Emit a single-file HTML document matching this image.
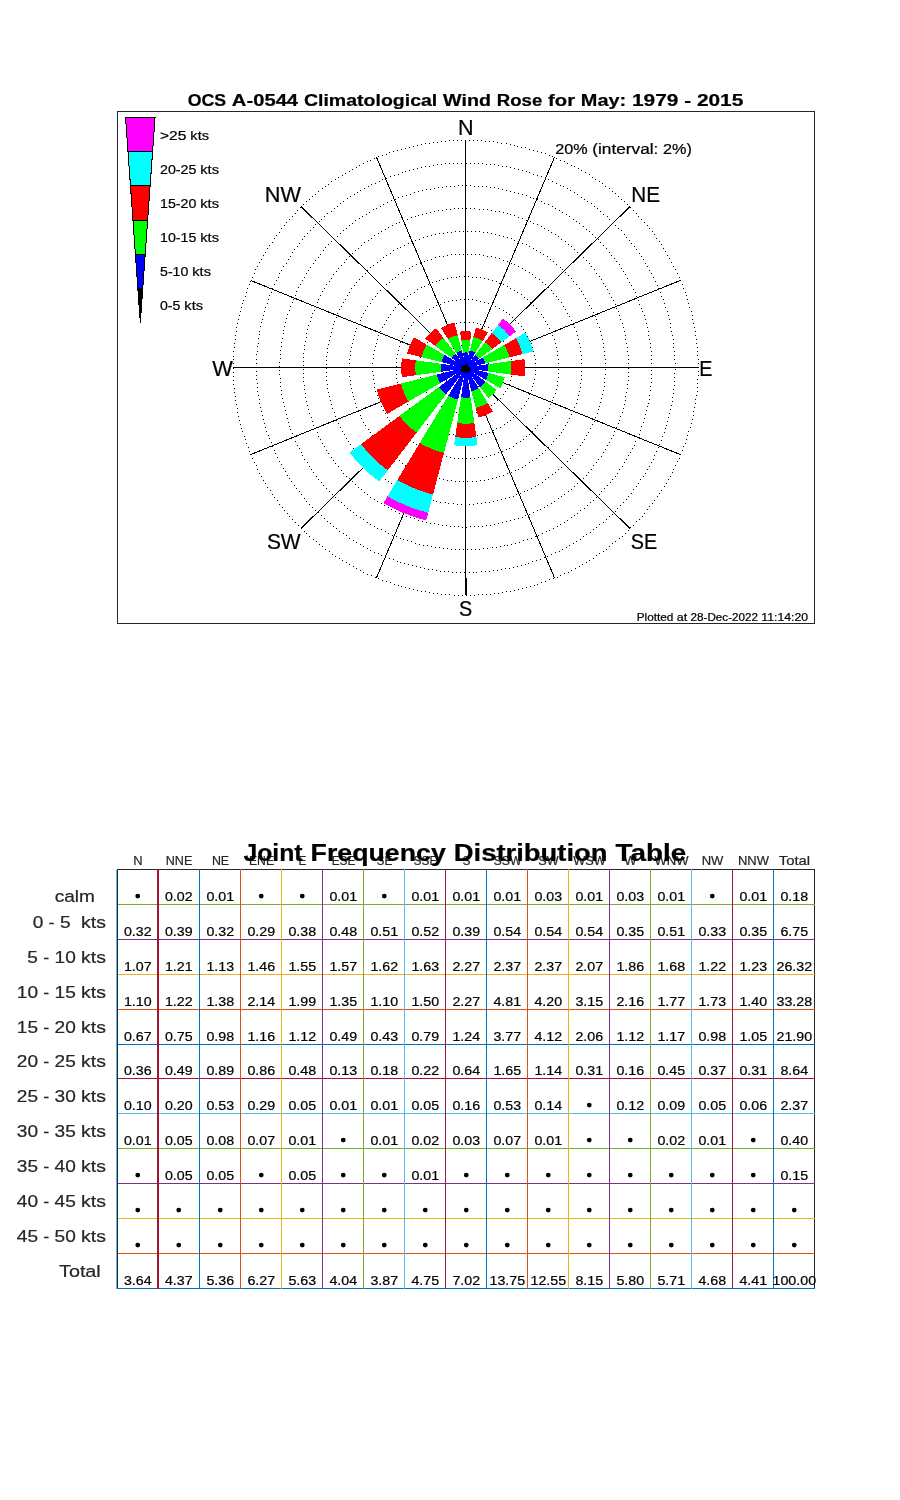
<!DOCTYPE html>
<html><head><meta charset="utf-8"><title>OCS A-0544 Climatological Wind Rose for May</title>
<style>html,body{margin:0;padding:0;background:#fff}body{width:900px;height:1500px;overflow:hidden}svg{display:block;will-change:transform}text{font-family:"Liberation Sans",sans-serif;fill:#000;white-space:pre;stroke:#000;stroke-width:.22px}.g{fill:#262626;stroke:#262626}</style></head><body>
<svg width="900" height="1500" viewBox="0 0 900 1500">
<rect width="900" height="1500" fill="#fff"/>
<g shape-rendering="crispEdges">
<rect x="117.5" y="111.5" width="697" height="512" fill="none" stroke="#262626" stroke-width="1"/>
</g>
<path shape-rendering="crispEdges" transform="translate(0,0.5)" fill="none" stroke="#000" stroke-width="1" d="M489 367h1M488 363h1M487 359h1M485 356h1M483 352h1M480 350h1M477 347h1M473 346h1M469 345h1M465 345h1M461 345h1M457 346h1M453 348h1M450 350h1M447 353h1M445 356h1M443 360h1M442 364h1M442 368h1M443 372h1M444 376h1M446 380h1M448 383h1M451 385h1M455 388h1M459 389h1M462 390h1M467 390h1M471 389h1M474 388h1M478 386h1M481 384h1M484 381h1M486 377h1M488 374h1M488 370h1M512 367h1M512 363h1M511 359h1M510 355h1M509 351h1M507 348h1M505 344h1M503 341h1M501 338h1M498 335h1M495 332h1M491 330h1M488 327h1M484 326h1M480 324h1M477 323h1M473 322h1M469 322h1M464 322h1M460 322h1M456 323h1M452 324h1M449 325h1M445 326h1M441 328h1M438 331h1M435 333h1M432 336h1M429 339h1M427 342h1M424 346h1M423 349h1M421 353h1M420 357h1M419 361h1M419 365h1M419 369h1M419 373h1M420 377h1M421 381h1M422 385h1M424 388h1M426 392h1M429 395h1M431 398h1M434 401h1M437 404h1M441 406h1M444 408h1M448 409h1M452 411h1M456 412h1M460 412h1M464 413h1M468 413h1M472 412h1M476 412h1M480 411h1M484 409h1M487 407h1M491 405h1M494 403h1M497 400h1M500 398h1M503 394h1M505 391h1M507 388h1M509 384h1M510 380h1M511 376h1M512 372h1M512 368h1M535 367h1M535 363h1M535 359h1M534 355h1M533 351h1M532 347h1M531 343h1M529 340h1M527 336h1M525 332h1M523 329h1M521 326h1M518 323h1M515 320h1M512 317h1M509 314h1M506 312h1M503 310h1M499 308h1M495 306h1M492 304h1M488 303h1M484 302h1M480 301h1M476 300h1M472 299h1M468 299h1M464 299h1M460 299h1M456 300h1M452 300h1M448 301h1M444 302h1M440 304h1M436 305h1M433 307h1M429 309h1M426 311h1M422 313h1M419 316h1M416 319h1M413 322h1M411 325h1M408 328h1M406 331h1M404 335h1M402 338h1M400 342h1M399 346h1M398 350h1M397 354h1M396 358h1M396 362h1M396 366h1M396 370h1M396 374h1M396 378h1M397 382h1M398 386h1M399 390h1M401 393h1M403 397h1M404 401h1M407 404h1M409 408h1M411 411h1M414 414h1M417 417h1M420 419h1M423 422h1M427 424h1M430 426h1M434 428h1M437 430h1M441 431h1M445 433h1M449 434h1M453 434h1M457 435h1M461 435h1M465 436h1M469 435h1M473 435h1M477 435h1M481 434h1M485 433h1M489 432h1M493 430h1M496 428h1M500 427h1M504 424h1M507 422h1M510 420h1M513 417h1M516 414h1M519 411h1M521 408h1M524 405h1M526 401h1M528 398h1M529 394h1M531 390h1M532 386h1M533 383h1M534 379h1M535 374h1M535 370h1M558 367h1M558 363h1M558 359h1M557 355h1M557 351h1M556 347h1M555 343h1M554 339h1M552 335h1M551 332h1M549 328h1M547 324h1M545 321h1M543 317h1M541 314h1M538 311h1M536 308h1M533 305h1M530 302h1M527 299h1M524 297h1M521 294h1M517 292h1M514 290h1M510 288h1M507 286h1M503 284h1M499 283h1M496 281h1M492 280h1M488 279h1M484 278h1M480 277h1M476 277h1M472 277h1M468 276h1M464 276h1M459 276h1M456 277h1M451 277h1M447 278h1M443 279h1M439 280h1M436 281h1M432 282h1M428 284h1M424 286h1M421 287h1M417 289h1M414 292h1M410 294h1M407 296h1M404 299h1M401 302h1M398 304h1M395 307h1M393 310h1M390 314h1M388 317h1M386 320h1M384 324h1M382 327h1M380 331h1M378 335h1M377 339h1M376 343h1M375 346h1M374 350h1M373 354h1M373 358h1M372 363h1M372 367h1M372 371h1M373 375h1M373 379h1M374 383h1M374 387h1M375 391h1M377 395h1M378 398h1M379 402h1M381 406h1M383 410h1M385 413h1M387 417h1M389 420h1M392 423h1M394 426h1M397 429h1M400 432h1M403 435h1M406 437h1M409 440h1M413 442h1M416 444h1M419 446h1M423 448h1M427 450h1M431 452h1M434 453h1M438 454h1M442 455h1M446 456h1M450 457h1M454 458h1M458 458h1M462 458h1M466 458h1M470 458h1M474 458h1M478 457h1M482 457h1M486 456h1M490 455h1M494 454h1M498 452h1M502 451h1M506 449h1M509 448h1M513 446h1M516 443h1M520 441h1M523 439h1M526 436h1M529 434h1M532 431h1M535 428h1M537 425h1M540 422h1M542 418h1M545 415h1M547 411h1M549 408h1M550 404h1M552 400h1M553 397h1M555 393h1M556 389h1M557 385h1M557 381h1M558 377h1M558 373h1M558 369h1M582 367h1M581 363h1M581 359h1M581 355h1M580 351h1M580 347h1M579 343h1M578 339h1M577 335h1M576 331h1M574 327h1M573 324h1M571 320h1M569 316h1M567 313h1M565 309h1M563 306h1M561 302h1M558 299h1M556 296h1M553 293h1M551 290h1M548 287h1M545 284h1M542 282h1M539 279h1M535 277h1M532 274h1M529 272h1M525 270h1M522 268h1M518 266h1M514 264h1M511 263h1M507 261h1M503 260h1M499 258h1M495 257h1M491 256h1M487 256h1M483 255h1M479 254h1M475 254h1M471 254h1M467 254h1M463 254h1M459 254h1M455 254h1M451 254h1M447 255h1M443 256h1M439 256h1M435 257h1M431 259h1M427 260h1M424 261h1M420 263h1M416 264h1M412 266h1M409 268h1M405 270h1M402 272h1M398 274h1M395 277h1M392 279h1M389 282h1M386 284h1M383 287h1M380 290h1M377 293h1M375 296h1M372 299h1M370 303h1M367 306h1M365 310h1M363 313h1M361 317h1M360 320h1M358 324h1M356 328h1M355 331h1M354 335h1M353 339h1M352 343h1M351 347h1M350 351h1M350 355h1M349 359h1M349 363h1M349 367h1M349 371h1M349 376h1M350 380h1M350 384h1M351 388h1M352 392h1M353 396h1M354 399h1M355 403h1M356 407h1M358 411h1M360 415h1M361 418h1M363 422h1M365 425h1M368 429h1M370 432h1M372 435h1M375 439h1M377 442h1M380 445h1M383 448h1M386 450h1M389 453h1M392 456h1M395 458h1M399 460h1M402 463h1M405 465h1M409 467h1M413 469h1M416 470h1M420 472h1M424 474h1M427 475h1M431 476h1M435 477h1M439 478h1M443 479h1M447 480h1M451 480h1M455 481h1M459 481h1M463 481h1M467 481h1M472 481h1M476 481h1M480 480h1M484 480h1M488 479h1M492 478h1M496 477h1M499 476h1M503 475h1M507 473h1M511 472h1M515 470h1M518 469h1M522 467h1M525 465h1M529 462h1M532 460h1M536 458h1M539 455h1M542 453h1M545 450h1M548 447h1M551 444h1M553 441h1M556 438h1M559 435h1M561 432h1M563 429h1M565 425h1M567 422h1M569 418h1M571 414h1M573 411h1M574 407h1M576 403h1M577 399h1M578 395h1M579 391h1M580 387h1M580 383h1M581 379h1M581 375h1M581 371h1M605 367h1M605 363h1M605 359h1M604 355h1M604 351h1M603 347h1M603 343h1M602 339h1M601 335h1M600 331h1M599 327h1M597 323h1M596 319h1M595 316h1M593 312h1M591 308h1M589 305h1M587 301h1M585 298h1M583 294h1M581 291h1M579 288h1M576 284h1M573 281h1M571 278h1M568 275h1M565 272h1M562 269h1M560 267h1M556 264h1M553 261h1M550 259h1M547 256h1M543 254h1M540 252h1M536 250h1M533 248h1M529 246h1M526 244h1M522 243h1M518 241h1M514 240h1M511 238h1M507 237h1M503 236h1M499 235h1M495 234h1M491 233h1M487 232h1M483 232h1M479 231h1M475 231h1M471 231h1M467 231h1M463 231h1M459 231h1M455 231h1M451 232h1M447 232h1M443 233h1M439 233h1M435 234h1M431 235h1M427 236h1M423 237h1M419 239h1M415 240h1M411 241h1M408 243h1M404 245h1M400 247h1M397 248h1M393 250h1M390 253h1M386 255h1M383 257h1M380 260h1M377 262h1M373 265h1M370 267h1M367 270h1M365 273h1M362 276h1M359 279h1M356 282h1M354 285h1M351 288h1M349 292h1M347 295h1M345 299h1M343 302h1M341 306h1M339 309h1M337 313h1M336 317h1M334 321h1M333 324h1M332 328h1M331 332h1M330 336h1M329 340h1M328 344h1M327 348h1M327 352h1M326 356h1M326 360h1M326 364h1M326 368h1M326 372h1M326 376h1M326 380h1M327 384h1M327 388h1M328 392h1M329 396h1M330 400h1M331 404h1M332 408h1M334 412h1M335 416h1M336 420h1M338 423h1M340 427h1M342 431h1M344 434h1M346 438h1M348 441h1M350 444h1M353 448h1M355 451h1M358 454h1M360 457h1M363 460h1M366 463h1M369 466h1M372 469h1M375 471h1M378 474h1M381 476h1M385 479h1M388 481h1M391 483h1M395 485h1M398 487h1M402 489h1M406 491h1M409 492h1M413 494h1M417 495h1M421 497h1M425 498h1M428 499h1M433 500h1M436 501h1M440 502h1M445 502h1M448 503h1M453 503h1M457 504h1M461 504h1M465 504h1M469 504h1M473 504h1M477 503h1M481 503h1M485 502h1M489 502h1M493 501h1M497 500h1M501 499h1M505 498h1M509 497h1M513 496h1M516 494h1M520 493h1M524 491h1M527 490h1M531 488h1M535 486h1M538 484h1M542 482h1M545 479h1M548 477h1M552 474h1M555 472h1M558 469h1M561 467h1M564 464h1M567 461h1M570 458h1M572 455h1M575 452h1M577 449h1M580 445h1M582 442h1M584 439h1M586 435h1M588 432h1M590 428h1M592 424h1M594 421h1M595 417h1M597 413h1M598 409h1M599 406h1M600 402h1M601 398h1M602 394h1M603 390h1M604 386h1M604 382h1M604 378h1M605 374h1M605 369h1M628 367h1M628 363h1M628 359h1M628 355h1M627 351h1M627 347h1M626 343h1M625 339h1M625 335h1M624 331h1M623 327h1M622 323h1M620 319h1M619 315h1M618 311h1M616 308h1M615 304h1M613 300h1M611 297h1M609 293h1M607 289h1M605 286h1M603 283h1M601 279h1M599 276h1M596 273h1M594 269h1M591 266h1M589 263h1M586 260h1M583 257h1M580 254h1M577 252h1M574 249h1M571 246h1M568 244h1M565 241h1M561 239h1M558 236h1M555 234h1M551 232h1M548 230h1M544 228h1M541 226h1M537 224h1M533 223h1M530 221h1M526 220h1M522 218h1M518 217h1M514 215h1M510 214h1M507 213h1M503 212h1M499 211h1M495 211h1M491 210h1M487 209h1M483 209h1M479 209h1M474 208h1M470 208h1M466 208h1M462 208h1M458 208h1M454 208h1M450 209h1M446 209h1M442 210h1M438 210h1M434 211h1M430 212h1M426 213h1M422 214h1M418 215h1M415 216h1M411 217h1M407 219h1M403 220h1M399 222h1M396 223h1M392 225h1M388 227h1M385 229h1M381 231h1M378 233h1M374 235h1M371 238h1M368 240h1M364 242h1M361 245h1M358 248h1M355 250h1M352 253h1M349 256h1M346 259h1M344 262h1M341 265h1M338 268h1M336 271h1M333 274h1M331 278h1M329 281h1M326 284h1M324 288h1M322 291h1M320 295h1M318 299h1M317 302h1M315 306h1M314 310h1M312 313h1M311 317h1M310 321h1M308 325h1M307 329h1M306 333h1M306 337h1M305 341h1M304 345h1M304 349h1M303 353h1M303 357h1M303 361h1M303 365h1M303 369h1M303 373h1M303 377h1M303 381h1M304 385h1M304 389h1M305 393h1M305 397h1M306 401h1M307 405h1M308 409h1M309 413h1M311 417h1M312 421h1M313 425h1M315 428h1M317 432h1M318 436h1M320 439h1M322 443h1M324 446h1M326 450h1M328 453h1M331 457h1M333 460h1M335 463h1M338 466h1M341 470h1M343 473h1M346 476h1M349 478h1M352 481h1M355 484h1M358 487h1M361 489h1M364 492h1M367 494h1M370 497h1M374 499h1M377 501h1M381 503h1M384 505h1M388 507h1M391 509h1M395 511h1M399 513h1M403 514h1M406 516h1M410 517h1M414 518h1M418 520h1M422 521h1M426 522h1M430 523h1M434 523h1M438 524h1M442 525h1M446 525h1M450 526h1M454 526h1M458 526h1M462 527h1M466 527h1M470 526h1M474 526h1M478 526h1M482 526h1M486 525h1M490 525h1M494 524h1M498 523h1M502 522h1M506 521h1M510 520h1M514 519h1M518 518h1M522 517h1M525 515h1M529 514h1M533 512h1M537 510h1M540 509h1M544 507h1M547 505h1M551 503h1M554 501h1M558 498h1M561 496h1M564 494h1M568 491h1M571 489h1M574 486h1M577 483h1M580 480h1M583 478h1M586 475h1M588 472h1M591 469h1M593 465h1M596 462h1M598 459h1M601 456h1M603 452h1M605 449h1M607 445h1M609 442h1M611 438h1M613 435h1M614 431h1M616 427h1M618 423h1M619 420h1M620 416h1M622 412h1M623 408h1M624 404h1M625 400h1M625 396h1M626 392h1M627 388h1M627 384h1M628 380h1M628 376h1M628 372h1M628 368h1M651 367h1M651 363h1M651 359h1M651 355h1M651 351h1M650 347h1M650 343h1M649 339h1M648 335h1M648 331h1M647 327h1M646 323h1M645 319h1M644 315h1M642 311h1M641 308h1M639 304h1M638 300h1M636 296h1M635 292h1M633 289h1M631 285h1M629 282h1M627 278h1M625 274h1M623 271h1M621 268h1M619 264h1M616 261h1M614 258h1M611 255h1M609 252h1M606 248h1M603 245h1M600 242h1M598 239h1M595 237h1M592 234h1M589 231h1M586 229h1M583 226h1M579 223h1M576 221h1M573 219h1M569 216h1M566 214h1M562 212h1M559 210h1M555 208h1M552 206h1M548 204h1M544 203h1M541 201h1M537 199h1M533 198h1M530 197h1M526 195h1M522 194h1M518 193h1M514 192h1M510 191h1M506 190h1M502 189h1M498 188h1M494 187h1M490 187h1M486 186h1M482 186h1M478 186h1M474 186h1M470 185h1M466 185h1M462 185h1M458 185h1M454 186h1M450 186h1M446 186h1M442 187h1M438 187h1M434 188h1M430 189h1M426 189h1M422 190h1M418 191h1M414 192h1M410 194h1M406 195h1M402 196h1M398 197h1M395 199h1M391 200h1M387 202h1M383 204h1M380 206h1M376 208h1M373 209h1M369 212h1M366 214h1M362 216h1M359 218h1M355 220h1M352 223h1M349 225h1M346 228h1M343 230h1M340 233h1M337 236h1M334 239h1M331 241h1M328 244h1M325 247h1M323 250h1M320 254h1M318 257h1M315 260h1M313 263h1M310 267h1M308 270h1M306 273h1M304 277h1M302 280h1M300 284h1M298 287h1M296 291h1M295 295h1M293 299h1M292 302h1M290 306h1M289 310h1M287 314h1M286 318h1M285 322h1M284 326h1M283 330h1M283 333h1M282 338h1M281 342h1M281 346h1M280 350h1M280 354h1M280 358h1M279 362h1M279 366h1M279 370h1M279 374h1M280 378h1M280 382h1M280 386h1M281 390h1M281 394h1M282 398h1M283 402h1M284 406h1M285 410h1M286 414h1M287 418h1M288 422h1M289 426h1M290 429h1M292 433h1M293 437h1M295 441h1M297 445h1M299 448h1M301 452h1M302 455h1M304 459h1M307 462h1M309 466h1M311 469h1M313 472h1M316 476h1M318 479h1M321 482h1M323 485h1M326 488h1M329 491h1M332 494h1M335 497h1M338 500h1M341 502h1M344 505h1M347 508h1M350 510h1M353 512h1M356 515h1M360 517h1M363 519h1M367 522h1M370 524h1M374 526h1M377 528h1M381 529h1M385 531h1M388 533h1M392 535h1M396 536h1M400 538h1M403 539h1M407 540h1M411 541h1M415 543h1M419 544h1M423 545h1M427 545h1M431 546h1M435 547h1M439 547h1M443 548h1M447 548h1M451 549h1M455 549h1M459 549h1M463 549h1M467 549h1M471 549h1M475 549h1M479 549h1M483 548h1M487 548h1M492 547h1M496 547h1M500 546h1M504 545h1M507 545h1M511 544h1M515 543h1M519 542h1M523 540h1M527 539h1M531 538h1M535 536h1M538 535h1M542 533h1M546 531h1M549 530h1M553 528h1M557 526h1M560 524h1M564 522h1M567 520h1M571 517h1M574 515h1M577 513h1M580 510h1M584 508h1M587 505h1M590 502h1M593 500h1M596 497h1M599 494h1M601 491h1M604 488h1M607 485h1M610 482h1M612 479h1M615 476h1M617 473h1M619 469h1M622 466h1M624 462h1M626 459h1M628 455h1M630 452h1M632 448h1M634 445h1M635 441h1M637 437h1M639 434h1M640 430h1M641 426h1M643 422h1M644 418h1M645 414h1M646 410h1M647 406h1M648 403h1M649 399h1M649 395h1M650 390h1M650 386h1M651 382h1M651 378h1M651 374h1M651 370h1M675 367h1M675 363h1M674 359h1M674 355h1M674 351h1M673 347h1M673 343h1M673 339h1M672 335h1M671 331h1M670 327h1M670 323h1M669 319h1M668 315h1M667 311h1M665 307h1M664 303h1M663 299h1M661 296h1M660 292h1M658 288h1M657 285h1M655 281h1M653 277h1M651 273h1M649 270h1M647 266h1M645 263h1M643 259h1M641 256h1M639 253h1M636 249h1M634 246h1M631 243h1M629 240h1M626 237h1M624 234h1M621 230h1M618 228h1M615 225h1M613 222h1M609 219h1M607 216h1M603 214h1M600 211h1M597 208h1M594 206h1M591 203h1M587 201h1M584 199h1M581 197h1M577 194h1M574 192h1M570 190h1M567 188h1M563 186h1M560 185h1M556 183h1M552 181h1M548 179h1M545 178h1M541 176h1M537 175h1M533 174h1M529 172h1M526 171h1M522 170h1M518 169h1M514 168h1M510 167h1M506 166h1M502 166h1M498 165h1M494 164h1M490 164h1M486 164h1M482 163h1M478 163h1M474 163h1M470 163h1M466 163h1M461 163h1M457 163h1M453 163h1M449 163h1M445 163h1M441 164h1M437 164h1M433 165h1M429 166h1M425 166h1M421 167h1M417 168h1M413 169h1M409 170h1M405 171h1M402 172h1M398 174h1M394 175h1M390 176h1M386 178h1M382 179h1M379 181h1M375 183h1M371 184h1M368 186h1M364 188h1M360 190h1M357 192h1M354 194h1M350 196h1M347 198h1M343 201h1M340 203h1M337 206h1M334 208h1M331 211h1M327 213h1M324 216h1M321 219h1M319 221h1M315 224h1M313 227h1M310 230h1M307 233h1M304 236h1M302 239h1M299 243h1M297 246h1M294 249h1M292 252h1M290 256h1M288 259h1M286 263h1M283 266h1M281 270h1M279 273h1M278 277h1M276 280h1M274 284h1M272 288h1M271 292h1M269 295h1M268 299h1M267 303h1M265 307h1M264 311h1M263 315h1M262 319h1M261 322h1M260 326h1M259 331h1M259 334h1M258 338h1M258 343h1M257 346h1M257 351h1M256 354h1M256 359h1M256 363h1M256 367h1M256 371h1M256 375h1M256 379h1M257 383h1M257 387h1M257 391h1M258 395h1M259 399h1M259 403h1M260 407h1M261 411h1M262 415h1M263 419h1M264 423h1M265 427h1M266 431h1M268 435h1M269 438h1M271 442h1M272 446h1M274 450h1M275 453h1M277 457h1M279 461h1M281 464h1M283 468h1M285 471h1M287 475h1M289 478h1M291 481h1M294 485h1M296 488h1M299 491h1M301 494h1M304 498h1M306 501h1M309 504h1M312 507h1M315 510h1M318 512h1M321 515h1M324 518h1M327 521h1M330 523h1M333 526h1M336 528h1M339 531h1M343 533h1M346 535h1M349 538h1M353 540h1M356 542h1M360 544h1M363 546h1M367 548h1M370 550h1M374 552h1M378 553h1M381 555h1M385 556h1M389 558h1M393 559h1M397 561h1M400 562h1M404 563h1M408 564h1M412 565h1M416 566h1M420 567h1M424 568h1M428 569h1M432 569h1M436 570h1M440 571h1M444 571h1M448 571h1M452 572h1M456 572h1M460 572h1M464 572h1M469 572h1M473 572h1M476 572h1M481 571h1M485 571h1M489 571h1M493 570h1M497 570h1M501 569h1M505 568h1M509 568h1M513 567h1M517 566h1M521 565h1M525 564h1M528 563h1M532 561h1M536 560h1M540 559h1M544 557h1M547 556h1M551 554h1M555 552h1M559 551h1M562 549h1M566 547h1M569 545h1M573 543h1M576 541h1M580 539h1M583 536h1M586 534h1M590 532h1M593 529h1M596 527h1M599 524h1M603 522h1M606 519h1M609 516h1M612 514h1M615 511h1M617 508h1M620 505h1M623 502h1M626 499h1M628 496h1M631 493h1M633 489h1M636 486h1M638 483h1M640 479h1M643 476h1M645 473h1M647 469h1M649 466h1M651 462h1M653 459h1M654 455h1M656 451h1M658 447h1M659 444h1M661 440h1M662 436h1M664 432h1M665 428h1M666 425h1M667 421h1M668 417h1M669 413h1M670 409h1M671 405h1M672 401h1M672 397h1M673 393h1M673 389h1M674 385h1M674 381h1M674 377h1M674 373h1M675 369h1M698 367h1M698 363h1M698 359h1M697 355h1M697 351h1M697 347h1M696 343h1M696 339h1M695 335h1M695 331h1M694 327h1M693 323h1M692 319h1M692 315h1M691 311h1M689 307h1M688 303h1M687 299h1M686 295h1M685 292h1M683 288h1M682 284h1M680 280h1M679 277h1M677 273h1M675 269h1M673 266h1M671 262h1M669 258h1M667 255h1M665 251h1M663 248h1M661 244h1M659 241h1M656 238h1M654 234h1M652 231h1M649 228h1M647 225h1M644 222h1M641 219h1M638 216h1M636 213h1M633 210h1M630 207h1M627 204h1M624 201h1M621 199h1M618 196h1M615 193h1M612 191h1M609 188h1M605 186h1M602 183h1M599 181h1M595 179h1M592 177h1M589 174h1M585 172h1M581 170h1M578 168h1M574 166h1M571 165h1M567 163h1M564 161h1M560 160h1M556 158h1M552 156h1M549 155h1M545 153h1M541 152h1M537 151h1M533 150h1M529 149h1M525 147h1M521 147h1M517 146h1M514 145h1M510 144h1M506 143h1M501 143h1M497 142h1M493 141h1M489 141h1M485 141h1M481 140h1M477 140h1M473 140h1M469 140h1M465 140h1M461 140h1M457 140h1M453 140h1M449 140h1M445 141h1M441 141h1M437 142h1M433 142h1M429 143h1M425 143h1M421 144h1M417 145h1M413 146h1M409 147h1M405 148h1M401 149h1M397 150h1M393 151h1M389 152h1M386 154h1M382 155h1M378 156h1M374 158h1M370 160h1M367 161h1M363 163h1M359 165h1M356 167h1M352 169h1M349 171h1M345 173h1M342 175h1M338 177h1M335 179h1M331 181h1M328 184h1M325 186h1M322 188h1M318 191h1M315 194h1M312 196h1M309 199h1M306 201h1M303 204h1M300 207h1M297 210h1M295 213h1M292 216h1M289 219h1M286 222h1M284 225h1M281 228h1M279 232h1M276 235h1M274 238h1M272 242h1M269 245h1M267 248h1M265 252h1M263 255h1M261 259h1M259 262h1M257 266h1M255 269h1M254 273h1M252 277h1M250 281h1M249 284h1M247 288h1M246 292h1M245 296h1M243 300h1M242 303h1M241 307h1M240 311h1M239 315h1M238 319h1M237 323h1M236 327h1M236 331h1M235 335h1M235 339h1M234 343h1M234 347h1M233 351h1M233 356h1M233 359h1M233 363h1M233 368h1M233 372h1M233 376h1M233 380h1M233 384h1M234 388h1M234 392h1M235 396h1M235 400h1M236 404h1M237 408h1M237 412h1M238 416h1M239 420h1M240 424h1M241 428h1M242 431h1M244 436h1M245 439h1M246 443h1M248 447h1M249 451h1M250 454h1M252 458h1M254 462h1M256 465h1M257 469h1M259 473h1M261 476h1M263 480h1M265 483h1M267 487h1M270 490h1M272 494h1M274 497h1M277 500h1M279 504h1M282 507h1M284 510h1M287 513h1M289 516h1M292 519h1M295 522h1M298 525h1M301 528h1M304 531h1M306 533h1M309 536h1M313 539h1M316 541h1M319 544h1M322 546h1M325 549h1M329 551h1M332 554h1M335 556h1M339 558h1M342 560h1M346 562h1M349 564h1M353 566h1M356 568h1M360 570h1M363 572h1M367 574h1M371 575h1M375 577h1M378 578h1M382 580h1M386 581h1M390 582h1M394 584h1M398 585h1M401 586h1M405 587h1M409 588h1M413 589h1M417 590h1M421 591h1M425 591h1M429 592h1M433 593h1M437 593h1M441 594h1M445 594h1M449 594h1M454 595h1M458 595h1M462 595h1M466 595h1M470 595h1M474 595h1M478 594h1M482 594h1M486 594h1M490 594h1M494 593h1M498 593h1M502 592h1M506 591h1M510 591h1M514 590h1M518 589h1M522 588h1M526 587h1M530 586h1M534 585h1M537 584h1M541 582h1M545 581h1M549 579h1M553 578h1M557 577h1M560 575h1M564 573h1M568 572h1M571 570h1M575 568h1M579 566h1M582 564h1M586 562h1M589 560h1M593 558h1M596 555h1M599 553h1M603 551h1M606 549h1M609 546h1M612 543h1M615 541h1M619 538h1M622 536h1M625 533h1M628 530h1M630 527h1M633 525h1M636 521h1M639 519h1M642 516h1M644 513h1M647 509h1M649 506h1M652 503h1M654 500h1M657 496h1M659 493h1M661 490h1M664 486h1M666 483h1M668 479h1M670 476h1M672 472h1M673 469h1M675 465h1M677 461h1M679 458h1M680 454h1M682 450h1M683 446h1M685 443h1M686 439h1M687 435h1M688 431h1M690 427h1M691 423h1M692 419h1M693 415h1M693 411h1M694 407h1M695 403h1M695 399h1M696 395h1M697 391h1M697 387h1M697 383h1M697 379h1M698 375h1M698 371h1"/>
<g stroke="#000" stroke-width="1" shape-rendering="crispEdges">
<line x1="465.50" y1="367.50" x2="465.50" y2="140.00"/>
<line x1="465.50" y1="367.50" x2="554.47" y2="157.32"/>
<line x1="465.50" y1="367.50" x2="629.90" y2="206.63"/>
<line x1="465.50" y1="367.50" x2="680.30" y2="280.44"/>
<line x1="465.50" y1="367.50" x2="698.00" y2="367.50"/>
<line x1="465.50" y1="367.50" x2="680.30" y2="454.56"/>
<line x1="465.50" y1="367.50" x2="629.90" y2="528.37"/>
<line x1="465.50" y1="367.50" x2="554.47" y2="577.68"/>
<line x1="465.50" y1="367.50" x2="465.50" y2="595.00"/>
<line x1="465.50" y1="367.50" x2="376.53" y2="577.68"/>
<line x1="465.50" y1="367.50" x2="301.10" y2="528.37"/>
<line x1="465.50" y1="367.50" x2="250.70" y2="454.56"/>
<line x1="465.50" y1="367.50" x2="233.00" y2="367.50"/>
<line x1="465.50" y1="367.50" x2="250.70" y2="280.44"/>
<line x1="465.50" y1="367.50" x2="301.10" y2="206.63"/>
<line x1="465.50" y1="367.50" x2="376.53" y2="157.32"/>
</g>
<rect x="466" y="578" width="1" height="18" fill="#000" shape-rendering="crispEdges"/>
<g shape-rendering="crispEdges" stroke-width="1" stroke-linejoin="miter">
<polygon fill="#000000" stroke="#000000" points="465.3,364.2 465.4,364.2 465.5,364.2 465.7,364.1 465.8,364.1 465.9,364.1 466.1,364.2 466.2,364.2 466.3,364.2 465.8,367.8"/>
<polygon fill="#0000ff" stroke="#0000ff" points="463.5,352.1 464.1,352.0 464.7,352.0 465.2,351.9 465.8,351.9 466.4,351.9 466.9,352.0 467.5,352.0 468.1,352.1 466.3,364.2 466.2,364.2 466.1,364.2 465.9,364.1 465.8,364.1 465.7,364.1 465.5,364.2 465.4,364.2 465.3,364.2"/>
<polygon fill="#00ff00" stroke="#00ff00" points="461.7,339.6 462.7,339.5 463.7,339.4 464.8,339.4 465.8,339.4 466.8,339.4 467.9,339.4 468.9,339.5 469.9,339.6 468.1,352.1 467.5,352.0 466.9,352.0 466.4,351.9 465.8,351.9 465.2,351.9 464.7,352.0 464.1,352.0 463.5,352.1"/>
<polygon fill="#ff0000" stroke="#ff0000" points="460.6,332.1 461.9,331.9 463.2,331.8 464.5,331.7 465.8,331.7 467.1,331.7 468.4,331.8 469.7,331.9 471.0,332.1 469.9,339.6 468.9,339.5 467.9,339.4 466.8,339.4 465.8,339.4 464.8,339.4 463.7,339.4 462.7,339.5 461.7,339.6"/>
<polygon fill="#000000" stroke="#000000" points="466.9,363.5 467.1,363.5 467.2,363.6 467.4,363.6 467.5,363.7 467.7,363.7 467.8,363.8 468.0,363.9 468.1,364.0 465.8,367.8"/>
<polygon fill="#0000ff" stroke="#0000ff" points="470.4,350.1 471.1,350.3 471.7,350.5 472.3,350.7 472.9,350.9 473.6,351.2 474.1,351.5 474.7,351.8 475.3,352.1 468.1,364.0 468.0,363.9 467.8,363.8 467.7,363.7 467.5,363.7 467.4,363.6 467.2,363.6 467.1,363.5 466.9,363.5"/>
<polygon fill="#00ff00" stroke="#00ff00" points="474.0,336.6 475.1,336.9 476.2,337.2 477.3,337.6 478.4,338.0 479.5,338.5 480.5,339.0 481.5,339.5 482.6,340.1 475.3,352.1 474.7,351.8 474.1,351.5 473.6,351.2 472.9,350.9 472.3,350.7 471.7,350.5 471.1,350.3 470.4,350.1"/>
<polygon fill="#ff0000" stroke="#ff0000" points="476.2,328.3 477.6,328.7 479.0,329.1 480.4,329.6 481.7,330.1 483.1,330.7 484.4,331.3 485.7,332.0 487.0,332.7 482.6,340.1 481.5,339.5 480.5,339.0 479.5,338.5 478.4,338.0 477.3,337.6 476.2,337.2 475.1,336.9 474.0,336.6"/>
<polygon fill="#000000" stroke="#000000" points="468.0,364.9 468.1,365.0 468.2,365.0 468.3,365.1 468.4,365.2 468.5,365.3 468.6,365.4 468.7,365.5 468.8,365.6 465.8,367.8"/>
<polygon fill="#0000ff" stroke="#0000ff" points="476.0,354.6 476.4,354.9 476.9,355.3 477.3,355.7 477.8,356.1 478.2,356.5 478.6,356.9 479.0,357.4 479.3,357.9 468.8,365.6 468.7,365.5 468.6,365.4 468.5,365.3 468.4,365.2 468.3,365.1 468.2,365.0 468.1,365.0 468.0,364.9"/>
<polygon fill="#00ff00" stroke="#00ff00" points="485.6,342.0 486.6,342.7 487.4,343.4 488.3,344.2 489.2,344.9 490.0,345.8 490.7,346.6 491.5,347.5 492.2,348.4 479.3,357.9 479.0,357.4 478.6,356.9 478.2,356.5 477.8,356.1 477.3,355.7 476.9,355.3 476.4,354.9 476.0,354.6"/>
<polygon fill="#ff0000" stroke="#ff0000" points="492.5,333.0 493.7,333.9 494.9,334.9 496.1,336.0 497.2,337.0 498.3,338.1 499.4,339.3 500.4,340.5 501.4,341.7 492.2,348.4 491.5,347.5 490.7,346.6 490.0,345.8 489.2,344.9 488.3,344.2 487.4,343.4 486.6,342.7 485.6,342.0"/>
<polygon fill="#00ffff" stroke="#00ffff" points="498.7,324.9 500.3,326.0 501.8,327.3 503.2,328.5 504.6,329.8 505.9,331.2 507.2,332.6 508.5,334.1 509.7,335.6 501.4,341.7 500.4,340.5 499.4,339.3 498.3,338.1 497.2,337.0 496.1,336.0 494.9,334.9 493.7,333.9 492.5,333.0"/>
<polygon fill="#ff00ff" stroke="#ff00ff" points="503.0,319.3 504.7,320.6 506.4,322.0 508.0,323.4 509.6,324.9 511.1,326.5 512.6,328.1 514.0,329.7 515.4,331.4 509.7,335.6 508.5,334.1 507.2,332.6 505.9,331.2 504.6,329.8 503.2,328.5 501.8,327.3 500.3,326.0 498.7,324.9"/>
<polygon fill="#000000" stroke="#000000" points="468.7,366.1 468.8,366.2 468.8,366.3 468.9,366.4 468.9,366.5 469.0,366.6 469.0,366.8 469.0,366.9 469.1,367.0 465.8,367.8"/>
<polygon fill="#0000ff" stroke="#0000ff" points="483.4,357.6 483.7,358.2 484.1,358.9 484.4,359.5 484.7,360.2 484.9,360.8 485.2,361.5 485.4,362.1 485.6,362.8 469.1,367.0 469.0,366.9 469.0,366.8 469.0,366.6 468.9,366.5 468.9,366.4 468.8,366.3 468.8,366.2 468.7,366.1"/>
<polygon fill="#00ff00" stroke="#00ff00" points="504.9,345.2 505.7,346.6 506.4,347.9 507.1,349.4 507.7,350.8 508.3,352.3 508.9,353.7 509.3,355.2 509.8,356.8 485.6,362.8 485.4,362.1 485.2,361.5 484.9,360.8 484.7,360.2 484.4,359.5 484.1,358.9 483.7,358.2 483.4,357.6"/>
<polygon fill="#ff0000" stroke="#ff0000" points="516.5,338.4 517.6,340.2 518.5,342.0 519.4,343.9 520.3,345.7 521.0,347.6 521.7,349.5 522.3,351.5 522.9,353.5 509.8,356.8 509.3,355.2 508.9,353.7 508.3,352.3 507.7,350.8 507.1,349.4 506.4,347.9 505.7,346.6 504.9,345.2"/>
<polygon fill="#00ffff" stroke="#00ffff" points="525.2,333.4 526.4,335.5 527.5,337.6 528.6,339.8 529.5,342.0 530.4,344.2 531.2,346.4 532.0,348.7 532.6,351.0 522.9,353.5 522.3,351.5 521.7,349.5 521.0,347.6 520.3,345.7 519.4,343.9 518.5,342.0 517.6,340.2 516.5,338.4"/>
<polygon fill="#000000" stroke="#000000" points="470.2,367.2 470.2,367.3 470.2,367.5 470.2,367.6 470.2,367.8 470.2,368.0 470.2,368.1 470.2,368.3 470.2,368.4 465.8,367.8"/>
<polygon fill="#0000ff" stroke="#0000ff" points="488.1,364.7 488.2,365.5 488.3,366.2 488.3,367.0 488.3,367.8 488.3,368.6 488.3,369.4 488.2,370.1 488.1,370.9 470.2,368.4 470.2,368.3 470.2,368.1 470.2,368.0 470.2,367.8 470.2,367.6 470.2,367.5 470.2,367.3 470.2,367.2"/>
<polygon fill="#00ff00" stroke="#00ff00" points="511.1,361.5 511.3,363.1 511.4,364.6 511.5,366.2 511.6,367.8 511.5,369.4 511.4,371.0 511.3,372.5 511.1,374.1 488.1,370.9 488.2,370.1 488.3,369.4 488.3,368.6 488.3,367.8 488.3,367.0 488.3,366.2 488.2,365.5 488.1,364.7"/>
<polygon fill="#ff0000" stroke="#ff0000" points="524.0,359.7 524.3,361.7 524.5,363.7 524.6,365.8 524.6,367.8 524.6,369.8 524.5,371.9 524.3,373.9 524.0,375.9 511.1,374.1 511.3,372.5 511.4,371.0 511.5,369.4 511.6,367.8 511.5,366.2 511.4,364.6 511.3,363.1 511.1,361.5"/>
<polygon fill="#000000" stroke="#000000" points="471.2,369.2 471.2,369.4 471.1,369.5 471.0,369.7 471.0,369.9 470.9,370.1 470.8,370.3 470.7,370.4 470.6,370.6 465.8,367.8"/>
<polygon fill="#0000ff" stroke="#0000ff" points="489.0,373.6 488.8,374.4 488.5,375.2 488.2,376.0 487.9,376.8 487.6,377.5 487.2,378.3 486.8,379.0 486.4,379.7 470.6,370.6 470.7,370.4 470.8,370.3 470.9,370.1 471.0,369.9 471.0,369.7 471.1,369.5 471.2,369.4 471.2,369.2"/>
<polygon fill="#00ff00" stroke="#00ff00" points="504.2,377.5 503.9,378.8 503.4,380.1 503.0,381.4 502.5,382.7 501.9,383.9 501.3,385.2 500.6,386.4 500.0,387.6 486.4,379.7 486.8,379.0 487.2,378.3 487.6,377.5 487.9,376.8 488.2,376.0 488.5,375.2 488.8,374.4 489.0,373.6"/>
<polygon fill="#000000" stroke="#000000" points="470.6,371.3 470.4,371.5 470.3,371.6 470.2,371.8 470.0,371.9 469.9,372.1 469.7,372.2 469.5,372.3 469.4,372.5 465.8,367.8"/>
<polygon fill="#0000ff" stroke="#0000ff" points="485.7,382.4 485.1,383.1 484.6,383.7 484.0,384.4 483.4,385.0 482.7,385.6 482.1,386.2 481.4,386.7 480.7,387.3 469.4,372.5 469.5,372.3 469.7,372.2 469.9,372.1 470.0,371.9 470.2,371.8 470.3,371.6 470.4,371.5 470.6,371.3"/>
<polygon fill="#00ff00" stroke="#00ff00" points="495.9,389.9 495.1,391.0 494.3,392.0 493.4,392.9 492.5,393.9 491.5,394.8 490.5,395.7 489.5,396.5 488.4,397.3 480.7,387.3 481.4,386.7 482.1,386.2 482.7,385.6 483.4,385.0 484.0,384.4 484.6,383.7 485.1,383.1 485.7,382.4"/>
<polygon fill="#000000" stroke="#000000" points="468.9,372.9 468.7,373.0 468.5,373.1 468.3,373.2 468.1,373.3 467.9,373.4 467.7,373.4 467.5,373.5 467.3,373.6 465.8,367.8"/>
<polygon fill="#0000ff" stroke="#0000ff" points="478.6,388.9 477.8,389.4 477.0,389.8 476.2,390.1 475.4,390.5 474.6,390.8 473.7,391.1 472.9,391.4 472.0,391.6 467.3,373.6 467.5,373.5 467.7,373.4 467.9,373.4 468.1,373.3 468.3,373.2 468.5,373.1 468.7,373.0 468.9,372.9"/>
<polygon fill="#00ff00" stroke="#00ff00" points="487.5,403.7 486.2,404.4 484.8,405.1 483.5,405.7 482.1,406.3 480.7,406.9 479.3,407.3 477.8,407.8 476.4,408.2 472.0,391.6 472.9,391.4 473.7,391.1 474.6,390.8 475.4,390.5 476.2,390.1 477.0,389.8 477.8,389.4 478.6,388.9"/>
<polygon fill="#ff0000" stroke="#ff0000" points="492.2,411.4 490.6,412.3 489.0,413.2 487.3,413.9 485.6,414.6 483.9,415.3 482.2,415.9 480.5,416.4 478.7,416.9 476.4,408.2 477.8,407.8 479.3,407.3 480.7,406.9 482.1,406.3 483.5,405.7 484.8,405.1 486.2,404.4 487.5,403.7"/>
<polygon fill="#000000" stroke="#000000" points="466.4,372.2 466.3,372.2 466.1,372.2 466.0,372.3 465.8,372.3 465.6,372.3 465.5,372.2 465.3,372.2 465.2,372.2 465.8,367.8"/>
<polygon fill="#0000ff" stroke="#0000ff" points="470.2,397.9 469.1,398.0 468.0,398.1 466.9,398.2 465.8,398.2 464.7,398.2 463.6,398.1 462.5,398.0 461.4,397.9 465.2,372.2 465.3,372.2 465.5,372.2 465.6,372.3 465.8,372.3 466.0,372.3 466.1,372.2 466.3,372.2 466.4,372.2"/>
<polygon fill="#00ff00" stroke="#00ff00" points="473.9,423.5 471.9,423.8 469.9,424.0 467.8,424.1 465.8,424.1 463.8,424.1 461.7,424.0 459.7,423.8 457.7,423.5 461.4,397.9 462.5,398.0 463.6,398.1 464.7,398.2 465.8,398.2 466.9,398.2 468.0,398.1 469.1,398.0 470.2,397.9"/>
<polygon fill="#ff0000" stroke="#ff0000" points="475.9,437.6 473.4,437.9 470.9,438.1 468.3,438.2 465.8,438.3 463.3,438.2 460.7,438.1 458.2,437.9 455.7,437.6 457.7,423.5 459.7,423.8 461.7,424.0 463.8,424.1 465.8,424.1 467.8,424.1 469.9,424.0 471.9,423.8 473.9,423.5"/>
<polygon fill="#00ffff" stroke="#00ffff" points="477.0,444.8 474.2,445.1 471.4,445.4 468.6,445.5 465.8,445.6 463.0,445.5 460.2,445.4 457.4,445.1 454.6,444.8 455.7,437.6 458.2,437.9 460.7,438.1 463.3,438.2 465.8,438.3 468.3,438.2 470.9,438.1 473.4,437.9 475.9,437.6"/>
<polygon fill="#000000" stroke="#000000" points="464.2,373.8 464.0,373.7 463.8,373.7 463.6,373.6 463.4,373.5 463.2,373.4 463.0,373.3 462.8,373.2 462.6,373.1 465.8,367.8"/>
<polygon fill="#0000ff" stroke="#0000ff" points="457.4,400.0 456.2,399.7 455.1,399.3 453.9,398.9 452.8,398.5 451.7,398.0 450.6,397.5 449.6,397.0 448.5,396.4 462.6,373.1 462.8,373.2 463.0,373.3 463.2,373.4 463.4,373.5 463.6,373.6 463.8,373.7 464.0,373.7 464.2,373.8"/>
<polygon fill="#00ff00" stroke="#00ff00" points="443.4,453.2 440.3,452.4 437.3,451.4 434.3,450.4 431.3,449.3 428.4,448.0 425.5,446.7 422.7,445.2 419.9,443.7 448.5,396.4 449.6,397.0 450.6,397.5 451.7,398.0 452.8,398.5 453.9,398.9 455.1,399.3 456.2,399.7 457.4,400.0"/>
<polygon fill="#ff0000" stroke="#ff0000" points="432.4,494.9 427.9,493.7 423.4,492.3 418.9,490.7 414.5,489.0 410.1,487.2 405.9,485.2 401.7,483.0 397.5,480.7 419.9,443.7 422.7,445.2 425.5,446.7 428.4,448.0 431.3,449.3 434.3,450.4 437.3,451.4 440.3,452.4 443.4,453.2"/>
<polygon fill="#00ffff" stroke="#00ffff" points="427.7,513.2 422.4,511.7 417.3,510.2 412.2,508.4 407.1,506.4 402.1,504.3 397.2,502.0 392.4,499.6 387.7,497.0 397.5,480.7 401.7,483.0 405.9,485.2 410.1,487.2 414.5,489.0 418.9,490.7 423.4,492.3 427.9,493.7 432.4,494.9"/>
<polygon fill="#ff00ff" stroke="#ff00ff" points="425.9,519.8 420.5,518.3 415.0,516.7 409.7,514.8 404.4,512.8 399.2,510.6 394.1,508.2 389.1,505.6 384.2,502.9 387.7,497.0 392.4,499.6 397.2,502.0 402.1,504.3 407.1,506.4 412.2,508.4 417.3,510.2 422.4,511.7 427.7,513.2"/>
<polygon fill="#000000" stroke="#000000" points="462.0,372.7 461.8,372.6 461.7,372.5 461.5,372.3 461.3,372.2 461.2,372.0 461.0,371.8 460.9,371.7 460.8,371.5 465.8,367.8"/>
<polygon fill="#0000ff" stroke="#0000ff" points="445.4,394.4 444.5,393.7 443.5,392.9 442.6,392.1 441.8,391.3 441.0,390.5 440.1,389.6 439.4,388.7 438.6,387.8 460.8,371.5 460.9,371.7 461.0,371.8 461.2,372.0 461.3,372.2 461.5,372.3 461.7,372.5 461.8,372.6 462.0,372.7"/>
<polygon fill="#00ff00" stroke="#00ff00" points="416.0,432.7 413.7,431.0 411.4,429.1 409.2,427.2 407.1,425.2 405.1,423.2 403.1,421.0 401.2,418.8 399.4,416.6 438.6,387.8 439.4,388.7 440.1,389.6 441.0,390.5 441.8,391.3 442.6,392.1 443.5,392.9 444.5,393.7 445.4,394.4"/>
<polygon fill="#ff0000" stroke="#ff0000" points="387.1,470.4 383.4,467.6 379.9,464.7 376.5,461.6 373.1,458.5 369.9,455.2 366.8,451.9 363.8,448.4 361.0,444.8 399.4,416.6 401.2,418.8 403.1,421.0 405.1,423.2 407.1,425.2 409.2,427.2 411.4,429.1 413.7,431.0 416.0,432.7"/>
<polygon fill="#00ffff" stroke="#00ffff" points="379.1,480.8 375.1,477.7 371.2,474.5 367.4,471.2 363.7,467.7 360.2,464.1 356.8,460.4 353.5,456.6 350.3,452.6 361.0,444.8 363.8,448.4 366.8,451.9 369.9,455.2 373.1,458.5 376.5,461.6 379.9,464.7 383.4,467.6 387.1,470.4"/>
<polygon fill="#000000" stroke="#000000" points="460.4,370.9 460.3,370.7 460.2,370.6 460.1,370.4 460.0,370.2 459.9,370.0 459.8,369.8 459.8,369.5 459.7,369.3 465.8,367.8"/>
<polygon fill="#0000ff" stroke="#0000ff" points="439.6,383.0 439.0,382.1 438.5,381.1 438.1,380.2 437.7,379.2 437.3,378.2 436.9,377.2 436.6,376.2 436.3,375.2 459.7,369.3 459.8,369.5 459.8,369.8 459.9,370.0 460.0,370.2 460.1,370.4 460.2,370.6 460.3,370.7 460.4,370.9"/>
<polygon fill="#00ff00" stroke="#00ff00" points="407.9,401.3 406.8,399.3 405.7,397.2 404.6,395.1 403.7,393.0 402.8,390.8 402.0,388.6 401.3,386.4 400.7,384.2 436.3,375.2 436.6,376.2 436.9,377.2 437.3,378.2 437.7,379.2 438.1,380.2 438.5,381.1 439.0,382.1 439.6,383.0"/>
<polygon fill="#ff0000" stroke="#ff0000" points="387.2,413.3 385.6,410.5 384.2,407.7 382.8,404.9 381.5,402.0 380.3,399.0 379.2,396.1 378.3,393.1 377.4,390.0 400.7,384.2 401.3,386.4 402.0,388.6 402.8,390.8 403.7,393.0 404.6,395.1 405.7,397.2 406.8,399.3 407.9,401.3"/>
<polygon fill="#000000" stroke="#000000" points="461.8,368.4 461.7,368.2 461.7,368.1 461.7,367.9 461.7,367.8 461.7,367.7 461.7,367.5 461.7,367.4 461.8,367.2 465.8,367.8"/>
<polygon fill="#0000ff" stroke="#0000ff" points="440.3,371.4 440.2,370.5 440.1,369.6 440.0,368.7 440.0,367.8 440.0,366.9 440.1,366.0 440.2,365.1 440.3,364.2 461.8,367.2 461.7,367.4 461.7,367.5 461.7,367.7 461.7,367.8 461.7,367.9 461.7,368.1 461.7,368.2 461.8,368.4"/>
<polygon fill="#00ff00" stroke="#00ff00" points="415.3,374.8 415.1,373.1 414.9,371.3 414.8,369.6 414.8,367.8 414.8,366.0 414.9,364.3 415.1,362.5 415.3,360.8 440.3,364.2 440.2,365.1 440.1,366.0 440.0,366.9 440.0,367.8 440.0,368.7 440.1,369.6 440.2,370.5 440.3,371.4"/>
<polygon fill="#ff0000" stroke="#ff0000" points="402.4,376.6 402.1,374.4 401.9,372.2 401.8,370.0 401.7,367.8 401.8,365.6 401.9,363.4 402.1,361.2 402.4,359.0 415.3,360.8 415.1,362.5 414.9,364.3 414.8,366.0 414.8,367.8 414.8,369.6 414.9,371.3 415.1,373.1 415.3,374.8"/>
<polygon fill="#000000" stroke="#000000" points="460.0,366.4 460.1,366.2 460.2,366.0 460.2,365.8 460.3,365.6 460.4,365.4 460.5,365.2 460.6,365.0 460.7,364.8 465.8,367.8"/>
<polygon fill="#0000ff" stroke="#0000ff" points="441.0,361.6 441.3,360.7 441.6,359.9 441.9,359.1 442.2,358.2 442.5,357.4 442.9,356.6 443.4,355.8 443.8,355.1 460.7,364.8 460.6,365.0 460.5,365.2 460.4,365.4 460.3,365.6 460.2,365.8 460.2,366.0 460.1,366.2 460.0,366.4"/>
<polygon fill="#00ff00" stroke="#00ff00" points="421.0,356.6 421.5,355.0 422.0,353.5 422.5,352.0 423.1,350.5 423.8,349.0 424.5,347.6 425.2,346.2 426.0,344.8 443.8,355.1 443.4,355.8 442.9,356.6 442.5,357.4 442.2,358.2 441.9,359.1 441.6,359.9 441.3,360.7 441.0,361.6"/>
<polygon fill="#ff0000" stroke="#ff0000" points="407.8,353.2 408.4,351.2 409.0,349.3 409.7,347.3 410.5,345.4 411.3,343.5 412.2,341.6 413.2,339.8 414.3,338.0 426.0,344.8 425.2,346.2 424.5,347.6 423.8,349.0 423.1,350.5 422.5,352.0 422.0,353.5 421.5,355.0 421.0,356.6"/>
<polygon fill="#000000" stroke="#000000" points="462.7,365.5 462.8,365.4 462.9,365.3 463.0,365.2 463.1,365.1 463.2,365.0 463.3,365.0 463.4,364.9 463.5,364.8 465.8,367.8"/>
<polygon fill="#0000ff" stroke="#0000ff" points="451.3,357.2 451.7,356.7 452.1,356.2 452.6,355.7 453.0,355.3 453.5,354.8 453.9,354.4 454.4,354.0 454.9,353.6 463.5,364.8 463.4,364.9 463.3,365.0 463.2,365.0 463.1,365.1 463.0,365.2 462.9,365.3 462.8,365.4 462.7,365.5"/>
<polygon fill="#00ff00" stroke="#00ff00" points="435.2,345.3 436.0,344.3 436.9,343.2 437.8,342.3 438.7,341.3 439.7,340.4 440.7,339.5 441.7,338.7 442.8,337.8 454.9,353.6 454.4,354.0 453.9,354.4 453.5,354.8 453.0,355.3 452.6,355.7 452.1,356.2 451.7,356.7 451.3,357.2"/>
<polygon fill="#ff0000" stroke="#ff0000" points="426.0,338.6 427.1,337.2 428.2,335.9 429.4,334.6 430.6,333.4 431.9,332.2 433.2,331.1 434.6,330.0 435.9,328.9 442.8,337.8 441.7,338.7 440.7,339.5 439.7,340.4 438.7,341.3 437.8,342.3 436.9,343.2 436.0,344.3 435.2,345.3"/>
<polygon fill="#000000" stroke="#000000" points="463.7,364.4 463.8,364.3 464.0,364.2 464.1,364.2 464.2,364.1 464.4,364.1 464.5,364.0 464.6,364.0 464.8,363.9 465.8,367.8"/>
<polygon fill="#0000ff" stroke="#0000ff" points="456.4,352.3 457.0,352.0 457.6,351.7 458.1,351.4 458.7,351.1 459.3,350.9 460.0,350.7 460.6,350.5 461.2,350.3 464.8,363.9 464.6,364.0 464.5,364.0 464.4,364.1 464.2,364.1 464.1,364.2 464.0,364.2 463.8,364.3 463.7,364.4"/>
<polygon fill="#00ff00" stroke="#00ff00" points="448.1,338.5 449.2,337.9 450.3,337.4 451.4,336.8 452.5,336.4 453.6,335.9 454.8,335.5 456.0,335.2 457.2,334.8 461.2,350.3 460.6,350.5 460.0,350.7 459.3,350.9 458.7,351.1 458.1,351.4 457.6,351.7 457.0,352.0 456.4,352.3"/>
<polygon fill="#ff0000" stroke="#ff0000" points="441.9,328.2 443.3,327.4 444.8,326.6 446.3,325.9 447.8,325.3 449.3,324.7 450.9,324.1 452.5,323.7 454.1,323.2 457.2,334.8 456.0,335.2 454.8,335.5 453.6,335.9 452.5,336.4 451.4,336.8 450.3,337.4 449.2,337.9 448.1,338.5"/>
</g>
<text x="465.90" y="135.00" font-size="22.00" text-anchor="middle" textLength="15.58" lengthAdjust="spacingAndGlyphs">N</text>
<text x="465.70" y="616.20" font-size="22.00" text-anchor="middle" textLength="13.22" lengthAdjust="spacingAndGlyphs">S</text>
<text x="222.55" y="375.50" font-size="22.00" text-anchor="middle" textLength="20.60" lengthAdjust="spacingAndGlyphs">W</text>
<text x="705.85" y="375.50" font-size="22.00" text-anchor="middle" textLength="13.16" lengthAdjust="spacingAndGlyphs">E</text>
<text x="282.80" y="202.00" font-size="22.00" text-anchor="middle" textLength="36.18" lengthAdjust="spacingAndGlyphs">NW</text>
<text x="645.65" y="202.00" font-size="22.00" text-anchor="middle" textLength="28.74" lengthAdjust="spacingAndGlyphs">NE</text>
<text x="283.80" y="549.10" font-size="22.00" text-anchor="middle" textLength="33.82" lengthAdjust="spacingAndGlyphs">SW</text>
<text x="644.05" y="549.30" font-size="22.00" text-anchor="middle" textLength="26.38" lengthAdjust="spacingAndGlyphs">SE</text>
<text y="154.30" font-size="15.20"><tspan x="555.20" textLength="32.41" lengthAdjust="spacingAndGlyphs">20%</tspan> <tspan x="592.24" textLength="66.19" lengthAdjust="spacingAndGlyphs">(interval:</tspan> <tspan x="663.07" textLength="28.82" lengthAdjust="spacingAndGlyphs">2%)</tspan></text>
<text y="620.80" font-size="10.90"><tspan x="636.70" textLength="36.75" lengthAdjust="spacingAndGlyphs">Plotted</tspan> <tspan x="676.76" textLength="10.47" lengthAdjust="spacingAndGlyphs">at</tspan> <tspan x="690.55" textLength="67.46" lengthAdjust="spacingAndGlyphs">28-Dec-2022</tspan> <tspan x="761.32" textLength="46.80" lengthAdjust="spacingAndGlyphs">11:14:20</tspan></text>
<text y="105.70" font-size="17.40" font-weight="bold"><tspan x="187.67" textLength="38.41" lengthAdjust="spacingAndGlyphs">OCS</tspan> <tspan x="231.89" textLength="66.22" lengthAdjust="spacingAndGlyphs">A-0544</tspan> <tspan x="303.91" textLength="133.37" lengthAdjust="spacingAndGlyphs">Climatological</tspan> <tspan x="443.08" textLength="47.90" lengthAdjust="spacingAndGlyphs">Wind</tspan> <tspan x="496.78" textLength="45.52" lengthAdjust="spacingAndGlyphs">Rose</tspan> <tspan x="548.11" textLength="26.93" lengthAdjust="spacingAndGlyphs">for</tspan> <tspan x="580.84" textLength="45.37" lengthAdjust="spacingAndGlyphs">May:</tspan> <tspan x="632.01" textLength="46.39" lengthAdjust="spacingAndGlyphs">1979</tspan> <tspan x="684.21" textLength="6.92" lengthAdjust="spacingAndGlyphs">-</tspan> <tspan x="696.93" textLength="46.39" lengthAdjust="spacingAndGlyphs">2015</tspan></text>
<g stroke="#000" stroke-width="1" stroke-linejoin="miter" shape-rendering="crispEdges">
<polygon fill="#ff00ff" points="125.55,117.50 155.05,117.50 152.59,151.67 128.01,151.67"/>
<polygon fill="#00ffff" points="128.01,151.67 152.59,151.67 150.13,185.83 130.47,185.83"/>
<polygon fill="#ff0000" points="130.47,185.83 150.13,185.83 147.68,220.00 132.93,220.00"/>
<polygon fill="#00ff00" points="132.93,220.00 147.68,220.00 145.22,254.17 135.38,254.17"/>
<polygon fill="#0000ff" points="135.38,254.17 145.22,254.17 142.76,288.33 137.84,288.33"/>
<polygon fill="#000000" points="137.84,288.33 142.76,288.33 140.30,322.50 140.30,322.50"/>
</g>
<text y="140.20" font-size="13.00"><tspan x="160.00" textLength="26.38" lengthAdjust="spacingAndGlyphs">&gt;25</tspan> <tspan x="190.35" textLength="18.65" lengthAdjust="spacingAndGlyphs">kts</tspan></text>
<text y="174.20" font-size="13.00"><tspan x="160.00" textLength="36.32" lengthAdjust="spacingAndGlyphs">20-25</tspan> <tspan x="200.30" textLength="18.65" lengthAdjust="spacingAndGlyphs">kts</tspan></text>
<text y="208.20" font-size="13.00"><tspan x="160.00" textLength="36.32" lengthAdjust="spacingAndGlyphs">15-20</tspan> <tspan x="200.30" textLength="18.65" lengthAdjust="spacingAndGlyphs">kts</tspan></text>
<text y="242.20" font-size="13.00"><tspan x="160.00" textLength="36.32" lengthAdjust="spacingAndGlyphs">10-15</tspan> <tspan x="200.30" textLength="18.65" lengthAdjust="spacingAndGlyphs">kts</tspan></text>
<text y="276.20" font-size="13.00"><tspan x="160.00" textLength="28.37" lengthAdjust="spacingAndGlyphs">5-10</tspan> <tspan x="192.34" textLength="18.65" lengthAdjust="spacingAndGlyphs">kts</tspan></text>
<text y="310.20" font-size="13.00"><tspan x="160.00" textLength="20.42" lengthAdjust="spacingAndGlyphs">0-5</tspan> <tspan x="184.39" textLength="18.65" lengthAdjust="spacingAndGlyphs">kts</tspan></text>
<g shape-rendering="crispEdges">
<rect x="117" y="869" width="698" height="1" fill="#262626"/>
<rect x="117" y="869" width="1" height="420" fill="#262626"/>
<rect x="814" y="869" width="1" height="420" fill="#262626"/>
<rect x="117" y="1288" width="698" height="1" fill="#0072bd"/>
<rect x="117" y="1253" width="698" height="1" fill="#d95319"/>
<rect x="117" y="1218" width="698" height="1" fill="#edb120"/>
<rect x="117" y="1183" width="698" height="1" fill="#7e2f8e"/>
<rect x="117" y="1148" width="698" height="1" fill="#77ac30"/>
<rect x="117" y="1113" width="698" height="1" fill="#4dbeee"/>
<rect x="117" y="1078" width="698" height="1" fill="#a2142f"/>
<rect x="117" y="1044" width="698" height="1" fill="#0072bd"/>
<rect x="117" y="1009" width="698" height="1" fill="#d95319"/>
<rect x="117" y="974" width="698" height="1" fill="#edb120"/>
<rect x="117" y="939" width="698" height="1" fill="#7e2f8e"/>
<rect x="117" y="904" width="698" height="1" fill="#77ac30"/>
<rect x="116" y="870" width="1" height="419" fill="#4dbeee"/>
<rect x="117" y="869" width="1" height="419" fill="#262626"/>
<rect x="157" y="869" width="2" height="420" fill="#a2142f"/>
<rect x="199" y="869" width="1" height="420" fill="#0072bd"/>
<rect x="240" y="869" width="1" height="420" fill="#d95319"/>
<rect x="281" y="869" width="1" height="420" fill="#edb120"/>
<rect x="322" y="869" width="1" height="420" fill="#7e2f8e"/>
<rect x="363" y="869" width="1" height="420" fill="#77ac30"/>
<rect x="404" y="869" width="1" height="420" fill="#4dbeee"/>
<rect x="445" y="869" width="1" height="420" fill="#a2142f"/>
<rect x="486" y="869" width="1" height="420" fill="#0072bd"/>
<rect x="527" y="869" width="1" height="420" fill="#d95319"/>
<rect x="568" y="869" width="1" height="420" fill="#edb120"/>
<rect x="609" y="869" width="1" height="420" fill="#7e2f8e"/>
<rect x="650" y="869" width="1" height="420" fill="#77ac30"/>
<rect x="691" y="869" width="1" height="420" fill="#4dbeee"/>
<rect x="732" y="869" width="1" height="420" fill="#a2142f"/>
<rect x="773" y="869" width="1" height="420" fill="#0072bd"/>
<rect x="814" y="869" width="1" height="35" fill="#262626"/>
</g>
<text x="138.00" y="864.70" font-size="13.00" text-anchor="middle" textLength="9.35" lengthAdjust="spacingAndGlyphs" class="g">N</text>
<text x="179.00" y="864.70" font-size="13.00" text-anchor="middle" textLength="26.60" lengthAdjust="spacingAndGlyphs" class="g">NNE</text>
<text x="220.50" y="864.70" font-size="13.00" text-anchor="middle" textLength="17.25" lengthAdjust="spacingAndGlyphs" class="g">NE</text>
<text x="261.50" y="864.70" font-size="13.00" text-anchor="middle" textLength="25.15" lengthAdjust="spacingAndGlyphs" class="g">ENE</text>
<text x="302.50" y="864.70" font-size="13.00" text-anchor="middle" textLength="7.90" lengthAdjust="spacingAndGlyphs" class="g">E</text>
<text x="343.50" y="864.70" font-size="13.00" text-anchor="middle" textLength="23.73" lengthAdjust="spacingAndGlyphs" class="g">ESE</text>
<text x="384.50" y="864.70" font-size="13.00" text-anchor="middle" textLength="15.83" lengthAdjust="spacingAndGlyphs" class="g">SE</text>
<text x="425.50" y="864.70" font-size="13.00" text-anchor="middle" textLength="23.77" lengthAdjust="spacingAndGlyphs" class="g">SSE</text>
<text x="466.50" y="864.70" font-size="13.00" text-anchor="middle" textLength="7.93" lengthAdjust="spacingAndGlyphs" class="g">S</text>
<text x="507.50" y="864.70" font-size="13.00" text-anchor="middle" textLength="28.23" lengthAdjust="spacingAndGlyphs" class="g">SSW</text>
<text x="548.50" y="864.70" font-size="13.00" text-anchor="middle" textLength="20.29" lengthAdjust="spacingAndGlyphs" class="g">SW</text>
<text x="589.50" y="864.70" font-size="13.00" text-anchor="middle" textLength="32.65" lengthAdjust="spacingAndGlyphs" class="g">WSW</text>
<text x="630.50" y="864.70" font-size="13.00" text-anchor="middle" textLength="12.36" lengthAdjust="spacingAndGlyphs" class="g">W</text>
<text x="671.50" y="864.70" font-size="13.00" text-anchor="middle" textLength="34.07" lengthAdjust="spacingAndGlyphs" class="g">WNW</text>
<text x="712.50" y="864.70" font-size="13.00" text-anchor="middle" textLength="21.71" lengthAdjust="spacingAndGlyphs" class="g">NW</text>
<text x="753.50" y="864.70" font-size="13.00" text-anchor="middle" textLength="31.06" lengthAdjust="spacingAndGlyphs" class="g">NNW</text>
<text x="794.50" y="864.70" font-size="13.00" text-anchor="middle" textLength="31.32" lengthAdjust="spacingAndGlyphs" class="g">Total</text>
<circle cx="137.75" cy="896.10" r="2.4" fill="#000"/>
<text x="178.80" y="900.80" font-size="13.60" text-anchor="middle" textLength="27.72" lengthAdjust="spacingAndGlyphs">0.02</text>
<text x="220.30" y="900.80" font-size="13.60" text-anchor="middle" textLength="27.72" lengthAdjust="spacingAndGlyphs">0.01</text>
<circle cx="261.25" cy="896.10" r="2.4" fill="#000"/>
<circle cx="302.25" cy="896.10" r="2.4" fill="#000"/>
<text x="343.30" y="900.80" font-size="13.60" text-anchor="middle" textLength="27.72" lengthAdjust="spacingAndGlyphs">0.01</text>
<circle cx="384.25" cy="896.10" r="2.4" fill="#000"/>
<text x="425.30" y="900.80" font-size="13.60" text-anchor="middle" textLength="27.72" lengthAdjust="spacingAndGlyphs">0.01</text>
<text x="466.30" y="900.80" font-size="13.60" text-anchor="middle" textLength="27.72" lengthAdjust="spacingAndGlyphs">0.01</text>
<text x="507.30" y="900.80" font-size="13.60" text-anchor="middle" textLength="27.72" lengthAdjust="spacingAndGlyphs">0.01</text>
<text x="548.30" y="900.80" font-size="13.60" text-anchor="middle" textLength="27.72" lengthAdjust="spacingAndGlyphs">0.03</text>
<text x="589.30" y="900.80" font-size="13.60" text-anchor="middle" textLength="27.72" lengthAdjust="spacingAndGlyphs">0.01</text>
<text x="630.30" y="900.80" font-size="13.60" text-anchor="middle" textLength="27.72" lengthAdjust="spacingAndGlyphs">0.03</text>
<text x="671.30" y="900.80" font-size="13.60" text-anchor="middle" textLength="27.72" lengthAdjust="spacingAndGlyphs">0.01</text>
<circle cx="712.25" cy="896.10" r="2.4" fill="#000"/>
<text x="753.30" y="900.80" font-size="13.60" text-anchor="middle" textLength="27.72" lengthAdjust="spacingAndGlyphs">0.01</text>
<text x="794.30" y="900.80" font-size="13.60" text-anchor="middle" textLength="27.72" lengthAdjust="spacingAndGlyphs">0.18</text>
<text x="137.80" y="935.80" font-size="13.60" text-anchor="middle" textLength="27.72" lengthAdjust="spacingAndGlyphs">0.32</text>
<text x="178.80" y="935.80" font-size="13.60" text-anchor="middle" textLength="27.72" lengthAdjust="spacingAndGlyphs">0.39</text>
<text x="220.30" y="935.80" font-size="13.60" text-anchor="middle" textLength="27.72" lengthAdjust="spacingAndGlyphs">0.32</text>
<text x="261.30" y="935.80" font-size="13.60" text-anchor="middle" textLength="27.72" lengthAdjust="spacingAndGlyphs">0.29</text>
<text x="302.30" y="935.80" font-size="13.60" text-anchor="middle" textLength="27.72" lengthAdjust="spacingAndGlyphs">0.38</text>
<text x="343.30" y="935.80" font-size="13.60" text-anchor="middle" textLength="27.72" lengthAdjust="spacingAndGlyphs">0.48</text>
<text x="384.30" y="935.80" font-size="13.60" text-anchor="middle" textLength="27.72" lengthAdjust="spacingAndGlyphs">0.51</text>
<text x="425.30" y="935.80" font-size="13.60" text-anchor="middle" textLength="27.72" lengthAdjust="spacingAndGlyphs">0.52</text>
<text x="466.30" y="935.80" font-size="13.60" text-anchor="middle" textLength="27.72" lengthAdjust="spacingAndGlyphs">0.39</text>
<text x="507.30" y="935.80" font-size="13.60" text-anchor="middle" textLength="27.72" lengthAdjust="spacingAndGlyphs">0.54</text>
<text x="548.30" y="935.80" font-size="13.60" text-anchor="middle" textLength="27.72" lengthAdjust="spacingAndGlyphs">0.54</text>
<text x="589.30" y="935.80" font-size="13.60" text-anchor="middle" textLength="27.72" lengthAdjust="spacingAndGlyphs">0.54</text>
<text x="630.30" y="935.80" font-size="13.60" text-anchor="middle" textLength="27.72" lengthAdjust="spacingAndGlyphs">0.35</text>
<text x="671.30" y="935.80" font-size="13.60" text-anchor="middle" textLength="27.72" lengthAdjust="spacingAndGlyphs">0.51</text>
<text x="712.30" y="935.80" font-size="13.60" text-anchor="middle" textLength="27.72" lengthAdjust="spacingAndGlyphs">0.33</text>
<text x="753.30" y="935.80" font-size="13.60" text-anchor="middle" textLength="27.72" lengthAdjust="spacingAndGlyphs">0.35</text>
<text x="794.30" y="935.80" font-size="13.60" text-anchor="middle" textLength="27.72" lengthAdjust="spacingAndGlyphs">6.75</text>
<text x="137.80" y="970.80" font-size="13.60" text-anchor="middle" textLength="27.72" lengthAdjust="spacingAndGlyphs">1.07</text>
<text x="178.80" y="970.80" font-size="13.60" text-anchor="middle" textLength="27.72" lengthAdjust="spacingAndGlyphs">1.21</text>
<text x="220.30" y="970.80" font-size="13.60" text-anchor="middle" textLength="27.72" lengthAdjust="spacingAndGlyphs">1.13</text>
<text x="261.30" y="970.80" font-size="13.60" text-anchor="middle" textLength="27.72" lengthAdjust="spacingAndGlyphs">1.46</text>
<text x="302.30" y="970.80" font-size="13.60" text-anchor="middle" textLength="27.72" lengthAdjust="spacingAndGlyphs">1.55</text>
<text x="343.30" y="970.80" font-size="13.60" text-anchor="middle" textLength="27.72" lengthAdjust="spacingAndGlyphs">1.57</text>
<text x="384.30" y="970.80" font-size="13.60" text-anchor="middle" textLength="27.72" lengthAdjust="spacingAndGlyphs">1.62</text>
<text x="425.30" y="970.80" font-size="13.60" text-anchor="middle" textLength="27.72" lengthAdjust="spacingAndGlyphs">1.63</text>
<text x="466.30" y="970.80" font-size="13.60" text-anchor="middle" textLength="27.72" lengthAdjust="spacingAndGlyphs">2.27</text>
<text x="507.30" y="970.80" font-size="13.60" text-anchor="middle" textLength="27.72" lengthAdjust="spacingAndGlyphs">2.37</text>
<text x="548.30" y="970.80" font-size="13.60" text-anchor="middle" textLength="27.72" lengthAdjust="spacingAndGlyphs">2.37</text>
<text x="589.30" y="970.80" font-size="13.60" text-anchor="middle" textLength="27.72" lengthAdjust="spacingAndGlyphs">2.07</text>
<text x="630.30" y="970.80" font-size="13.60" text-anchor="middle" textLength="27.72" lengthAdjust="spacingAndGlyphs">1.86</text>
<text x="671.30" y="970.80" font-size="13.60" text-anchor="middle" textLength="27.72" lengthAdjust="spacingAndGlyphs">1.68</text>
<text x="712.30" y="970.80" font-size="13.60" text-anchor="middle" textLength="27.72" lengthAdjust="spacingAndGlyphs">1.22</text>
<text x="753.30" y="970.80" font-size="13.60" text-anchor="middle" textLength="27.72" lengthAdjust="spacingAndGlyphs">1.23</text>
<text x="794.30" y="970.80" font-size="13.60" text-anchor="middle" textLength="35.64" lengthAdjust="spacingAndGlyphs">26.32</text>
<text x="137.80" y="1005.80" font-size="13.60" text-anchor="middle" textLength="27.72" lengthAdjust="spacingAndGlyphs">1.10</text>
<text x="178.80" y="1005.80" font-size="13.60" text-anchor="middle" textLength="27.72" lengthAdjust="spacingAndGlyphs">1.22</text>
<text x="220.30" y="1005.80" font-size="13.60" text-anchor="middle" textLength="27.72" lengthAdjust="spacingAndGlyphs">1.38</text>
<text x="261.30" y="1005.80" font-size="13.60" text-anchor="middle" textLength="27.72" lengthAdjust="spacingAndGlyphs">2.14</text>
<text x="302.30" y="1005.80" font-size="13.60" text-anchor="middle" textLength="27.72" lengthAdjust="spacingAndGlyphs">1.99</text>
<text x="343.30" y="1005.80" font-size="13.60" text-anchor="middle" textLength="27.72" lengthAdjust="spacingAndGlyphs">1.35</text>
<text x="384.30" y="1005.80" font-size="13.60" text-anchor="middle" textLength="27.72" lengthAdjust="spacingAndGlyphs">1.10</text>
<text x="425.30" y="1005.80" font-size="13.60" text-anchor="middle" textLength="27.72" lengthAdjust="spacingAndGlyphs">1.50</text>
<text x="466.30" y="1005.80" font-size="13.60" text-anchor="middle" textLength="27.72" lengthAdjust="spacingAndGlyphs">2.27</text>
<text x="507.30" y="1005.80" font-size="13.60" text-anchor="middle" textLength="27.72" lengthAdjust="spacingAndGlyphs">4.81</text>
<text x="548.30" y="1005.80" font-size="13.60" text-anchor="middle" textLength="27.72" lengthAdjust="spacingAndGlyphs">4.20</text>
<text x="589.30" y="1005.80" font-size="13.60" text-anchor="middle" textLength="27.72" lengthAdjust="spacingAndGlyphs">3.15</text>
<text x="630.30" y="1005.80" font-size="13.60" text-anchor="middle" textLength="27.72" lengthAdjust="spacingAndGlyphs">2.16</text>
<text x="671.30" y="1005.80" font-size="13.60" text-anchor="middle" textLength="27.72" lengthAdjust="spacingAndGlyphs">1.77</text>
<text x="712.30" y="1005.80" font-size="13.60" text-anchor="middle" textLength="27.72" lengthAdjust="spacingAndGlyphs">1.73</text>
<text x="753.30" y="1005.80" font-size="13.60" text-anchor="middle" textLength="27.72" lengthAdjust="spacingAndGlyphs">1.40</text>
<text x="794.30" y="1005.80" font-size="13.60" text-anchor="middle" textLength="35.64" lengthAdjust="spacingAndGlyphs">33.28</text>
<text x="137.80" y="1040.80" font-size="13.60" text-anchor="middle" textLength="27.72" lengthAdjust="spacingAndGlyphs">0.67</text>
<text x="178.80" y="1040.80" font-size="13.60" text-anchor="middle" textLength="27.72" lengthAdjust="spacingAndGlyphs">0.75</text>
<text x="220.30" y="1040.80" font-size="13.60" text-anchor="middle" textLength="27.72" lengthAdjust="spacingAndGlyphs">0.98</text>
<text x="261.30" y="1040.80" font-size="13.60" text-anchor="middle" textLength="27.72" lengthAdjust="spacingAndGlyphs">1.16</text>
<text x="302.30" y="1040.80" font-size="13.60" text-anchor="middle" textLength="27.72" lengthAdjust="spacingAndGlyphs">1.12</text>
<text x="343.30" y="1040.80" font-size="13.60" text-anchor="middle" textLength="27.72" lengthAdjust="spacingAndGlyphs">0.49</text>
<text x="384.30" y="1040.80" font-size="13.60" text-anchor="middle" textLength="27.72" lengthAdjust="spacingAndGlyphs">0.43</text>
<text x="425.30" y="1040.80" font-size="13.60" text-anchor="middle" textLength="27.72" lengthAdjust="spacingAndGlyphs">0.79</text>
<text x="466.30" y="1040.80" font-size="13.60" text-anchor="middle" textLength="27.72" lengthAdjust="spacingAndGlyphs">1.24</text>
<text x="507.30" y="1040.80" font-size="13.60" text-anchor="middle" textLength="27.72" lengthAdjust="spacingAndGlyphs">3.77</text>
<text x="548.30" y="1040.80" font-size="13.60" text-anchor="middle" textLength="27.72" lengthAdjust="spacingAndGlyphs">4.12</text>
<text x="589.30" y="1040.80" font-size="13.60" text-anchor="middle" textLength="27.72" lengthAdjust="spacingAndGlyphs">2.06</text>
<text x="630.30" y="1040.80" font-size="13.60" text-anchor="middle" textLength="27.72" lengthAdjust="spacingAndGlyphs">1.12</text>
<text x="671.30" y="1040.80" font-size="13.60" text-anchor="middle" textLength="27.72" lengthAdjust="spacingAndGlyphs">1.17</text>
<text x="712.30" y="1040.80" font-size="13.60" text-anchor="middle" textLength="27.72" lengthAdjust="spacingAndGlyphs">0.98</text>
<text x="753.30" y="1040.80" font-size="13.60" text-anchor="middle" textLength="27.72" lengthAdjust="spacingAndGlyphs">1.05</text>
<text x="794.30" y="1040.80" font-size="13.60" text-anchor="middle" textLength="35.64" lengthAdjust="spacingAndGlyphs">21.90</text>
<text x="137.80" y="1074.80" font-size="13.60" text-anchor="middle" textLength="27.72" lengthAdjust="spacingAndGlyphs">0.36</text>
<text x="178.80" y="1074.80" font-size="13.60" text-anchor="middle" textLength="27.72" lengthAdjust="spacingAndGlyphs">0.49</text>
<text x="220.30" y="1074.80" font-size="13.60" text-anchor="middle" textLength="27.72" lengthAdjust="spacingAndGlyphs">0.89</text>
<text x="261.30" y="1074.80" font-size="13.60" text-anchor="middle" textLength="27.72" lengthAdjust="spacingAndGlyphs">0.86</text>
<text x="302.30" y="1074.80" font-size="13.60" text-anchor="middle" textLength="27.72" lengthAdjust="spacingAndGlyphs">0.48</text>
<text x="343.30" y="1074.80" font-size="13.60" text-anchor="middle" textLength="27.72" lengthAdjust="spacingAndGlyphs">0.13</text>
<text x="384.30" y="1074.80" font-size="13.60" text-anchor="middle" textLength="27.72" lengthAdjust="spacingAndGlyphs">0.18</text>
<text x="425.30" y="1074.80" font-size="13.60" text-anchor="middle" textLength="27.72" lengthAdjust="spacingAndGlyphs">0.22</text>
<text x="466.30" y="1074.80" font-size="13.60" text-anchor="middle" textLength="27.72" lengthAdjust="spacingAndGlyphs">0.64</text>
<text x="507.30" y="1074.80" font-size="13.60" text-anchor="middle" textLength="27.72" lengthAdjust="spacingAndGlyphs">1.65</text>
<text x="548.30" y="1074.80" font-size="13.60" text-anchor="middle" textLength="27.72" lengthAdjust="spacingAndGlyphs">1.14</text>
<text x="589.30" y="1074.80" font-size="13.60" text-anchor="middle" textLength="27.72" lengthAdjust="spacingAndGlyphs">0.31</text>
<text x="630.30" y="1074.80" font-size="13.60" text-anchor="middle" textLength="27.72" lengthAdjust="spacingAndGlyphs">0.16</text>
<text x="671.30" y="1074.80" font-size="13.60" text-anchor="middle" textLength="27.72" lengthAdjust="spacingAndGlyphs">0.45</text>
<text x="712.30" y="1074.80" font-size="13.60" text-anchor="middle" textLength="27.72" lengthAdjust="spacingAndGlyphs">0.37</text>
<text x="753.30" y="1074.80" font-size="13.60" text-anchor="middle" textLength="27.72" lengthAdjust="spacingAndGlyphs">0.31</text>
<text x="794.30" y="1074.80" font-size="13.60" text-anchor="middle" textLength="27.72" lengthAdjust="spacingAndGlyphs">8.64</text>
<text x="137.80" y="1109.80" font-size="13.60" text-anchor="middle" textLength="27.72" lengthAdjust="spacingAndGlyphs">0.10</text>
<text x="178.80" y="1109.80" font-size="13.60" text-anchor="middle" textLength="27.72" lengthAdjust="spacingAndGlyphs">0.20</text>
<text x="220.30" y="1109.80" font-size="13.60" text-anchor="middle" textLength="27.72" lengthAdjust="spacingAndGlyphs">0.53</text>
<text x="261.30" y="1109.80" font-size="13.60" text-anchor="middle" textLength="27.72" lengthAdjust="spacingAndGlyphs">0.29</text>
<text x="302.30" y="1109.80" font-size="13.60" text-anchor="middle" textLength="27.72" lengthAdjust="spacingAndGlyphs">0.05</text>
<text x="343.30" y="1109.80" font-size="13.60" text-anchor="middle" textLength="27.72" lengthAdjust="spacingAndGlyphs">0.01</text>
<text x="384.30" y="1109.80" font-size="13.60" text-anchor="middle" textLength="27.72" lengthAdjust="spacingAndGlyphs">0.01</text>
<text x="425.30" y="1109.80" font-size="13.60" text-anchor="middle" textLength="27.72" lengthAdjust="spacingAndGlyphs">0.05</text>
<text x="466.30" y="1109.80" font-size="13.60" text-anchor="middle" textLength="27.72" lengthAdjust="spacingAndGlyphs">0.16</text>
<text x="507.30" y="1109.80" font-size="13.60" text-anchor="middle" textLength="27.72" lengthAdjust="spacingAndGlyphs">0.53</text>
<text x="548.30" y="1109.80" font-size="13.60" text-anchor="middle" textLength="27.72" lengthAdjust="spacingAndGlyphs">0.14</text>
<circle cx="589.25" cy="1105.10" r="2.4" fill="#000"/>
<text x="630.30" y="1109.80" font-size="13.60" text-anchor="middle" textLength="27.72" lengthAdjust="spacingAndGlyphs">0.12</text>
<text x="671.30" y="1109.80" font-size="13.60" text-anchor="middle" textLength="27.72" lengthAdjust="spacingAndGlyphs">0.09</text>
<text x="712.30" y="1109.80" font-size="13.60" text-anchor="middle" textLength="27.72" lengthAdjust="spacingAndGlyphs">0.05</text>
<text x="753.30" y="1109.80" font-size="13.60" text-anchor="middle" textLength="27.72" lengthAdjust="spacingAndGlyphs">0.06</text>
<text x="794.30" y="1109.80" font-size="13.60" text-anchor="middle" textLength="27.72" lengthAdjust="spacingAndGlyphs">2.37</text>
<text x="137.80" y="1144.80" font-size="13.60" text-anchor="middle" textLength="27.72" lengthAdjust="spacingAndGlyphs">0.01</text>
<text x="178.80" y="1144.80" font-size="13.60" text-anchor="middle" textLength="27.72" lengthAdjust="spacingAndGlyphs">0.05</text>
<text x="220.30" y="1144.80" font-size="13.60" text-anchor="middle" textLength="27.72" lengthAdjust="spacingAndGlyphs">0.08</text>
<text x="261.30" y="1144.80" font-size="13.60" text-anchor="middle" textLength="27.72" lengthAdjust="spacingAndGlyphs">0.07</text>
<text x="302.30" y="1144.80" font-size="13.60" text-anchor="middle" textLength="27.72" lengthAdjust="spacingAndGlyphs">0.01</text>
<circle cx="343.25" cy="1140.10" r="2.4" fill="#000"/>
<text x="384.30" y="1144.80" font-size="13.60" text-anchor="middle" textLength="27.72" lengthAdjust="spacingAndGlyphs">0.01</text>
<text x="425.30" y="1144.80" font-size="13.60" text-anchor="middle" textLength="27.72" lengthAdjust="spacingAndGlyphs">0.02</text>
<text x="466.30" y="1144.80" font-size="13.60" text-anchor="middle" textLength="27.72" lengthAdjust="spacingAndGlyphs">0.03</text>
<text x="507.30" y="1144.80" font-size="13.60" text-anchor="middle" textLength="27.72" lengthAdjust="spacingAndGlyphs">0.07</text>
<text x="548.30" y="1144.80" font-size="13.60" text-anchor="middle" textLength="27.72" lengthAdjust="spacingAndGlyphs">0.01</text>
<circle cx="589.25" cy="1140.10" r="2.4" fill="#000"/>
<circle cx="630.25" cy="1140.10" r="2.4" fill="#000"/>
<text x="671.30" y="1144.80" font-size="13.60" text-anchor="middle" textLength="27.72" lengthAdjust="spacingAndGlyphs">0.02</text>
<text x="712.30" y="1144.80" font-size="13.60" text-anchor="middle" textLength="27.72" lengthAdjust="spacingAndGlyphs">0.01</text>
<circle cx="753.25" cy="1140.10" r="2.4" fill="#000"/>
<text x="794.30" y="1144.80" font-size="13.60" text-anchor="middle" textLength="27.72" lengthAdjust="spacingAndGlyphs">0.40</text>
<circle cx="137.75" cy="1175.10" r="2.4" fill="#000"/>
<text x="178.80" y="1179.80" font-size="13.60" text-anchor="middle" textLength="27.72" lengthAdjust="spacingAndGlyphs">0.05</text>
<text x="220.30" y="1179.80" font-size="13.60" text-anchor="middle" textLength="27.72" lengthAdjust="spacingAndGlyphs">0.05</text>
<circle cx="261.25" cy="1175.10" r="2.4" fill="#000"/>
<text x="302.30" y="1179.80" font-size="13.60" text-anchor="middle" textLength="27.72" lengthAdjust="spacingAndGlyphs">0.05</text>
<circle cx="343.25" cy="1175.10" r="2.4" fill="#000"/>
<circle cx="384.25" cy="1175.10" r="2.4" fill="#000"/>
<text x="425.30" y="1179.80" font-size="13.60" text-anchor="middle" textLength="27.72" lengthAdjust="spacingAndGlyphs">0.01</text>
<circle cx="466.25" cy="1175.10" r="2.4" fill="#000"/>
<circle cx="507.25" cy="1175.10" r="2.4" fill="#000"/>
<circle cx="548.25" cy="1175.10" r="2.4" fill="#000"/>
<circle cx="589.25" cy="1175.10" r="2.4" fill="#000"/>
<circle cx="630.25" cy="1175.10" r="2.4" fill="#000"/>
<circle cx="671.25" cy="1175.10" r="2.4" fill="#000"/>
<circle cx="712.25" cy="1175.10" r="2.4" fill="#000"/>
<circle cx="753.25" cy="1175.10" r="2.4" fill="#000"/>
<text x="794.30" y="1179.80" font-size="13.60" text-anchor="middle" textLength="27.72" lengthAdjust="spacingAndGlyphs">0.15</text>
<circle cx="137.75" cy="1210.10" r="2.4" fill="#000"/>
<circle cx="178.75" cy="1210.10" r="2.4" fill="#000"/>
<circle cx="220.25" cy="1210.10" r="2.4" fill="#000"/>
<circle cx="261.25" cy="1210.10" r="2.4" fill="#000"/>
<circle cx="302.25" cy="1210.10" r="2.4" fill="#000"/>
<circle cx="343.25" cy="1210.10" r="2.4" fill="#000"/>
<circle cx="384.25" cy="1210.10" r="2.4" fill="#000"/>
<circle cx="425.25" cy="1210.10" r="2.4" fill="#000"/>
<circle cx="466.25" cy="1210.10" r="2.4" fill="#000"/>
<circle cx="507.25" cy="1210.10" r="2.4" fill="#000"/>
<circle cx="548.25" cy="1210.10" r="2.4" fill="#000"/>
<circle cx="589.25" cy="1210.10" r="2.4" fill="#000"/>
<circle cx="630.25" cy="1210.10" r="2.4" fill="#000"/>
<circle cx="671.25" cy="1210.10" r="2.4" fill="#000"/>
<circle cx="712.25" cy="1210.10" r="2.4" fill="#000"/>
<circle cx="753.25" cy="1210.10" r="2.4" fill="#000"/>
<circle cx="794.25" cy="1210.10" r="2.4" fill="#000"/>
<circle cx="137.75" cy="1245.10" r="2.4" fill="#000"/>
<circle cx="178.75" cy="1245.10" r="2.4" fill="#000"/>
<circle cx="220.25" cy="1245.10" r="2.4" fill="#000"/>
<circle cx="261.25" cy="1245.10" r="2.4" fill="#000"/>
<circle cx="302.25" cy="1245.10" r="2.4" fill="#000"/>
<circle cx="343.25" cy="1245.10" r="2.4" fill="#000"/>
<circle cx="384.25" cy="1245.10" r="2.4" fill="#000"/>
<circle cx="425.25" cy="1245.10" r="2.4" fill="#000"/>
<circle cx="466.25" cy="1245.10" r="2.4" fill="#000"/>
<circle cx="507.25" cy="1245.10" r="2.4" fill="#000"/>
<circle cx="548.25" cy="1245.10" r="2.4" fill="#000"/>
<circle cx="589.25" cy="1245.10" r="2.4" fill="#000"/>
<circle cx="630.25" cy="1245.10" r="2.4" fill="#000"/>
<circle cx="671.25" cy="1245.10" r="2.4" fill="#000"/>
<circle cx="712.25" cy="1245.10" r="2.4" fill="#000"/>
<circle cx="753.25" cy="1245.10" r="2.4" fill="#000"/>
<circle cx="794.25" cy="1245.10" r="2.4" fill="#000"/>
<text x="137.80" y="1284.80" font-size="13.60" text-anchor="middle" textLength="27.72" lengthAdjust="spacingAndGlyphs">3.64</text>
<text x="178.80" y="1284.80" font-size="13.60" text-anchor="middle" textLength="27.72" lengthAdjust="spacingAndGlyphs">4.37</text>
<text x="220.30" y="1284.80" font-size="13.60" text-anchor="middle" textLength="27.72" lengthAdjust="spacingAndGlyphs">5.36</text>
<text x="261.30" y="1284.80" font-size="13.60" text-anchor="middle" textLength="27.72" lengthAdjust="spacingAndGlyphs">6.27</text>
<text x="302.30" y="1284.80" font-size="13.60" text-anchor="middle" textLength="27.72" lengthAdjust="spacingAndGlyphs">5.63</text>
<text x="343.30" y="1284.80" font-size="13.60" text-anchor="middle" textLength="27.72" lengthAdjust="spacingAndGlyphs">4.04</text>
<text x="384.30" y="1284.80" font-size="13.60" text-anchor="middle" textLength="27.72" lengthAdjust="spacingAndGlyphs">3.87</text>
<text x="425.30" y="1284.80" font-size="13.60" text-anchor="middle" textLength="27.72" lengthAdjust="spacingAndGlyphs">4.75</text>
<text x="466.30" y="1284.80" font-size="13.60" text-anchor="middle" textLength="27.72" lengthAdjust="spacingAndGlyphs">7.02</text>
<text x="507.30" y="1284.80" font-size="13.60" text-anchor="middle" textLength="35.64" lengthAdjust="spacingAndGlyphs">13.75</text>
<text x="548.30" y="1284.80" font-size="13.60" text-anchor="middle" textLength="35.64" lengthAdjust="spacingAndGlyphs">12.55</text>
<text x="589.30" y="1284.80" font-size="13.60" text-anchor="middle" textLength="27.72" lengthAdjust="spacingAndGlyphs">8.15</text>
<text x="630.30" y="1284.80" font-size="13.60" text-anchor="middle" textLength="27.72" lengthAdjust="spacingAndGlyphs">5.80</text>
<text x="671.30" y="1284.80" font-size="13.60" text-anchor="middle" textLength="27.72" lengthAdjust="spacingAndGlyphs">5.71</text>
<text x="712.30" y="1284.80" font-size="13.60" text-anchor="middle" textLength="27.72" lengthAdjust="spacingAndGlyphs">4.68</text>
<text x="753.30" y="1284.80" font-size="13.60" text-anchor="middle" textLength="27.72" lengthAdjust="spacingAndGlyphs">4.41</text>
<text x="794.30" y="1284.80" font-size="13.60" text-anchor="middle" textLength="43.56" lengthAdjust="spacingAndGlyphs">100.00</text>
<text x="54.70" y="902.00" font-size="17.40" textLength="40.25" lengthAdjust="spacingAndGlyphs" class="g">calm</text>
<text y="927.80" font-size="17.40" class="g"><tspan x="32.70" textLength="10.61" lengthAdjust="spacingAndGlyphs">0</tspan> <tspan x="48.60" textLength="6.02" lengthAdjust="spacingAndGlyphs">-</tspan> <tspan x="59.92" textLength="10.61" lengthAdjust="spacingAndGlyphs">5</tspan> <tspan x="81.12" textLength="24.88" lengthAdjust="spacingAndGlyphs">kts</tspan></text>
<text y="962.70" font-size="17.40" class="g"><tspan x="27.39" textLength="10.61" lengthAdjust="spacingAndGlyphs">5</tspan> <tspan x="43.30" textLength="6.02" lengthAdjust="spacingAndGlyphs">-</tspan> <tspan x="54.61" textLength="21.21" lengthAdjust="spacingAndGlyphs">10</tspan> <tspan x="81.12" textLength="24.88" lengthAdjust="spacingAndGlyphs">kts</tspan></text>
<text y="997.60" font-size="17.40" class="g"><tspan x="16.79" textLength="21.21" lengthAdjust="spacingAndGlyphs">10</tspan> <tspan x="43.30" textLength="6.02" lengthAdjust="spacingAndGlyphs">-</tspan> <tspan x="54.61" textLength="21.21" lengthAdjust="spacingAndGlyphs">15</tspan> <tspan x="81.12" textLength="24.88" lengthAdjust="spacingAndGlyphs">kts</tspan></text>
<text y="1032.50" font-size="17.40" class="g"><tspan x="16.79" textLength="21.21" lengthAdjust="spacingAndGlyphs">15</tspan> <tspan x="43.30" textLength="6.02" lengthAdjust="spacingAndGlyphs">-</tspan> <tspan x="54.61" textLength="21.21" lengthAdjust="spacingAndGlyphs">20</tspan> <tspan x="81.12" textLength="24.88" lengthAdjust="spacingAndGlyphs">kts</tspan></text>
<text y="1067.40" font-size="17.40" class="g"><tspan x="16.79" textLength="21.21" lengthAdjust="spacingAndGlyphs">20</tspan> <tspan x="43.30" textLength="6.02" lengthAdjust="spacingAndGlyphs">-</tspan> <tspan x="54.61" textLength="21.21" lengthAdjust="spacingAndGlyphs">25</tspan> <tspan x="81.12" textLength="24.88" lengthAdjust="spacingAndGlyphs">kts</tspan></text>
<text y="1102.30" font-size="17.40" class="g"><tspan x="16.79" textLength="21.21" lengthAdjust="spacingAndGlyphs">25</tspan> <tspan x="43.30" textLength="6.02" lengthAdjust="spacingAndGlyphs">-</tspan> <tspan x="54.61" textLength="21.21" lengthAdjust="spacingAndGlyphs">30</tspan> <tspan x="81.12" textLength="24.88" lengthAdjust="spacingAndGlyphs">kts</tspan></text>
<text y="1137.20" font-size="17.40" class="g"><tspan x="16.79" textLength="21.21" lengthAdjust="spacingAndGlyphs">30</tspan> <tspan x="43.30" textLength="6.02" lengthAdjust="spacingAndGlyphs">-</tspan> <tspan x="54.61" textLength="21.21" lengthAdjust="spacingAndGlyphs">35</tspan> <tspan x="81.12" textLength="24.88" lengthAdjust="spacingAndGlyphs">kts</tspan></text>
<text y="1172.10" font-size="17.40" class="g"><tspan x="16.79" textLength="21.21" lengthAdjust="spacingAndGlyphs">35</tspan> <tspan x="43.30" textLength="6.02" lengthAdjust="spacingAndGlyphs">-</tspan> <tspan x="54.61" textLength="21.21" lengthAdjust="spacingAndGlyphs">40</tspan> <tspan x="81.12" textLength="24.88" lengthAdjust="spacingAndGlyphs">kts</tspan></text>
<text y="1207.00" font-size="17.40" class="g"><tspan x="16.79" textLength="21.21" lengthAdjust="spacingAndGlyphs">40</tspan> <tspan x="43.30" textLength="6.02" lengthAdjust="spacingAndGlyphs">-</tspan> <tspan x="54.61" textLength="21.21" lengthAdjust="spacingAndGlyphs">45</tspan> <tspan x="81.12" textLength="24.88" lengthAdjust="spacingAndGlyphs">kts</tspan></text>
<text y="1241.90" font-size="17.40" class="g"><tspan x="16.79" textLength="21.21" lengthAdjust="spacingAndGlyphs">45</tspan> <tspan x="43.30" textLength="6.02" lengthAdjust="spacingAndGlyphs">-</tspan> <tspan x="54.61" textLength="21.21" lengthAdjust="spacingAndGlyphs">50</tspan> <tspan x="81.12" textLength="24.88" lengthAdjust="spacingAndGlyphs">kts</tspan></text>
<text x="59.00" y="1276.80" font-size="17.40" textLength="41.76" lengthAdjust="spacingAndGlyphs" class="g">Total</text>
<text y="860.70" font-size="24.40" font-weight="bold"><tspan x="243.42" textLength="59.23" lengthAdjust="spacingAndGlyphs">Joint</tspan> <tspan x="310.60" textLength="135.21" lengthAdjust="spacingAndGlyphs">Frequency</tspan> <tspan x="453.76" textLength="153.78" lengthAdjust="spacingAndGlyphs">Distribution</tspan> <tspan x="615.49" textLength="70.69" lengthAdjust="spacingAndGlyphs">Table</tspan></text>
</svg></body></html>
